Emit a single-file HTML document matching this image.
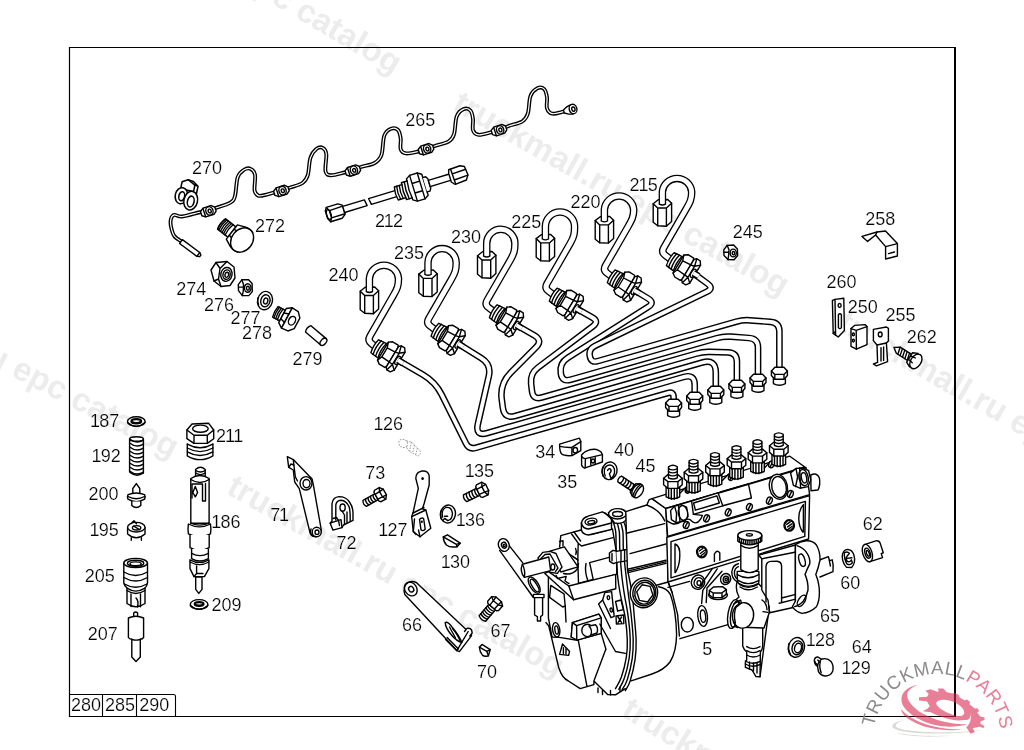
<!DOCTYPE html>
<html lang="en"><head><meta charset="utf-8"><title>Parts diagram</title>
<style>
html,body{margin:0;padding:0;background:#fff;}
body{width:1024px;height:750px;overflow:hidden;position:relative;font-family:"Liberation Sans",sans-serif;}
svg{position:absolute;left:0;top:0;display:block;will-change:transform}
.l{fill:none;stroke:#000;stroke-width:1.4;stroke-linecap:round;stroke-linejoin:round}
.w{fill:#fff;stroke:#000;stroke-width:1.4;stroke-linecap:round;stroke-linejoin:round}
.k{fill:#000;stroke:none}
.t{font-family:"Liberation Sans",sans-serif;font-size:18px;fill:#000;stroke:#fff;stroke-width:.2px}
.wm{font-family:"Liberation Sans",sans-serif;font-weight:bold;font-size:33px;fill:#ececec}
</style></head><body>
<svg width="1024" height="750" viewBox="0 0 1024 750">
<text class="wm" text-anchor="end" transform="translate(393.3 75) rotate(30.4)">truckmall.ru epc catalog</text>
<text class="wm" text-anchor="end" transform="translate(781.3 296.7) rotate(29.6)">truckmall.ru epc catalog</text>
<text class="wm" text-anchor="start" transform="translate(836 328.5) rotate(30)">truckmall.ru epc catalog</text>
<text class="wm" text-anchor="end" transform="translate(171.3 458.7) rotate(27.3)">truckmall.ru epc catalog</text>
<text class="wm" text-anchor="start" transform="translate(225 493) rotate(29.2)">truckmall.ru epc catalog</text>
<text class="wm" text-anchor="start" transform="translate(620 715) rotate(31.5)">truckmall.ru epc catalog</text>
<path d="M182.3 242 C181 241 176.2 238.6 174.3 236 C172.4 233.4 171.6 229.6 171 226.7 C170.4 223.8 170.4 220.7 171 218.7 C171.6 216.7 172.4 215.3 174.3 214.9 C176.2 214.5 177.9 217 182.3 216.5 C186.8 216 196.7 212.9 201 212 C205.3 211.1 205.9 212 208.3 211.3 C210.8 210.6 212 209.4 215.7 208 C219.4 206.6 227.1 204.7 230.3 202.7 C233.5 200.7 233.8 200.2 235 196 C236.2 191.8 236.2 181.6 237.7 177.3 C239.1 173 241.6 171.4 243.7 170 C245.8 168.6 248.4 167.9 250.3 168.7 C252.2 169.5 254.3 171 255 174.7 C255.7 178.4 254 187.2 254.6 190.7 C255.2 194.2 256.6 194.9 258.3 195.6 C260 196.3 262.6 195.5 265 195 C267.4 194.5 269.9 193.5 272.6 192.8 C275.3 192.1 278.5 191.9 281.4 191 C284.3 190.1 286.7 188.8 290.2 187.5 C293.7 186.2 299.6 185.1 302.5 183 C305.4 180.9 306.5 179.4 307.8 175.2 C309.1 171 309 162 310.5 157.6 C312 153.2 314.6 150.4 316.6 148.8 C318.7 147.2 321.2 147 322.8 147.9 C324.4 148.8 325.9 150.1 326.3 154 C326.8 157.9 324.7 167.6 325.5 171.2 C326.3 174.8 327.8 175.1 331 175.3 C334.2 175.5 341 173.3 344.6 172.5 C348.2 171.7 350.1 171.5 352.8 170.6 C355.5 169.7 357.4 168.3 361 167 C364.6 165.7 371.3 165 374.7 163 C378.1 161 379.9 159.4 381.5 154.8 C383.1 150.2 382.7 139.9 384.3 135.6 C385.9 131.3 388.7 129.7 391 128.8 C393.3 127.9 396.4 128.4 398 130 C399.6 131.6 400.2 135.2 400.7 138.4 C401.1 141.6 399.8 146.8 400.7 149.3 C401.6 151.8 403.1 153 406 153.4 C408.9 153.8 415.1 152.2 418.4 151.5 C421.7 150.8 423.3 150.2 426 149.3 C428.7 148.4 431.1 147.3 434.8 146 C438.6 144.7 445.3 143.5 448.5 141.6 C451.7 139.7 452.6 138.5 454 134.3 C455.4 130.1 455.1 120.7 456.7 116.5 C458.3 112.3 461.3 110.1 463.6 109.1 C465.9 108.1 468.8 108.8 470.4 110.5 C472 112.2 472.6 115.9 473 119.2 C473.4 122.5 472.1 127.6 473 130.2 C473.9 132.8 475.6 134.5 478.6 134.8 C481.6 135.2 487.6 133.1 491 132.3 C494.4 131.5 496.1 131.2 499 130.2 C501.9 129.1 504.8 127.5 508.7 126 C512.6 124.5 519.1 123.5 522.3 121.4 C525.5 119.4 526.4 117.9 527.8 113.7 C529.2 109.5 528.9 100.2 530.5 96 C532.1 91.8 535.1 89.5 537.4 88.3 C539.7 87.1 542.6 87.6 544.2 89.1 C545.8 90.6 546.5 94.1 547 97.3 C547.5 100.5 546.1 105.6 547 108.3 C547.9 111 549.7 113.2 552.4 113.7 C555.1 114.2 560.6 112.2 563.4 111.6 C566.2 111 568.1 110.4 569 110.2" fill="none" stroke="#000" stroke-width="3.9" stroke-linecap="butt" stroke-linejoin="round"/>
<path d="M182.3 242 C181 241 176.2 238.6 174.3 236 C172.4 233.4 171.6 229.6 171 226.7 C170.4 223.8 170.4 220.7 171 218.7 C171.6 216.7 172.4 215.3 174.3 214.9 C176.2 214.5 177.9 217 182.3 216.5 C186.8 216 196.7 212.9 201 212 C205.3 211.1 205.9 212 208.3 211.3 C210.8 210.6 212 209.4 215.7 208 C219.4 206.6 227.1 204.7 230.3 202.7 C233.5 200.7 233.8 200.2 235 196 C236.2 191.8 236.2 181.6 237.7 177.3 C239.1 173 241.6 171.4 243.7 170 C245.8 168.6 248.4 167.9 250.3 168.7 C252.2 169.5 254.3 171 255 174.7 C255.7 178.4 254 187.2 254.6 190.7 C255.2 194.2 256.6 194.9 258.3 195.6 C260 196.3 262.6 195.5 265 195 C267.4 194.5 269.9 193.5 272.6 192.8 C275.3 192.1 278.5 191.9 281.4 191 C284.3 190.1 286.7 188.8 290.2 187.5 C293.7 186.2 299.6 185.1 302.5 183 C305.4 180.9 306.5 179.4 307.8 175.2 C309.1 171 309 162 310.5 157.6 C312 153.2 314.6 150.4 316.6 148.8 C318.7 147.2 321.2 147 322.8 147.9 C324.4 148.8 325.9 150.1 326.3 154 C326.8 157.9 324.7 167.6 325.5 171.2 C326.3 174.8 327.8 175.1 331 175.3 C334.2 175.5 341 173.3 344.6 172.5 C348.2 171.7 350.1 171.5 352.8 170.6 C355.5 169.7 357.4 168.3 361 167 C364.6 165.7 371.3 165 374.7 163 C378.1 161 379.9 159.4 381.5 154.8 C383.1 150.2 382.7 139.9 384.3 135.6 C385.9 131.3 388.7 129.7 391 128.8 C393.3 127.9 396.4 128.4 398 130 C399.6 131.6 400.2 135.2 400.7 138.4 C401.1 141.6 399.8 146.8 400.7 149.3 C401.6 151.8 403.1 153 406 153.4 C408.9 153.8 415.1 152.2 418.4 151.5 C421.7 150.8 423.3 150.2 426 149.3 C428.7 148.4 431.1 147.3 434.8 146 C438.6 144.7 445.3 143.5 448.5 141.6 C451.7 139.7 452.6 138.5 454 134.3 C455.4 130.1 455.1 120.7 456.7 116.5 C458.3 112.3 461.3 110.1 463.6 109.1 C465.9 108.1 468.8 108.8 470.4 110.5 C472 112.2 472.6 115.9 473 119.2 C473.4 122.5 472.1 127.6 473 130.2 C473.9 132.8 475.6 134.5 478.6 134.8 C481.6 135.2 487.6 133.1 491 132.3 C494.4 131.5 496.1 131.2 499 130.2 C501.9 129.1 504.8 127.5 508.7 126 C512.6 124.5 519.1 123.5 522.3 121.4 C525.5 119.4 526.4 117.9 527.8 113.7 C529.2 109.5 528.9 100.2 530.5 96 C532.1 91.8 535.1 89.5 537.4 88.3 C539.7 87.1 542.6 87.6 544.2 89.1 C545.8 90.6 546.5 94.1 547 97.3 C547.5 100.5 546.1 105.6 547 108.3 C547.9 111 549.7 113.2 552.4 113.7 C555.1 114.2 560.6 112.2 563.4 111.6 C566.2 111 568.1 110.4 569 110.2" fill="none" stroke="#fff" stroke-width="1.2" stroke-linecap="butt" stroke-linejoin="round"/>
<g transform="translate(181 241.6) rotate(36.5)">
<path class="w" d="M0 -2.4 H21.5 L24 -1 V1 L21.5 2.4 H0Z"/>
<path class="l" d="M21.5 -2.4V2.4"/>
</g>
<g transform="translate(208.3 211.3) rotate(-18)">
<path class="w" d="M-7.5 -2.2 L-4 -4.6 L4.5 -4.6 L7.5 -2 L7.5 2.2 L4.5 4.6 L-4 4.6 L-7.5 2.2Z"/>
<ellipse class="w" cx="1.2" cy="0" rx="3.6" ry="4.3"/>
<ellipse class="l" cx="1.4" cy="0.2" rx="1.5" ry="1.9"/>
<path class="l" d="M-4.2 -4.4V4.4"/>
</g>
<g transform="translate(281.4 191) rotate(-18)">
<path class="w" d="M-7.5 -2.2 L-4 -4.6 L4.5 -4.6 L7.5 -2 L7.5 2.2 L4.5 4.6 L-4 4.6 L-7.5 2.2Z"/>
<ellipse class="w" cx="1.2" cy="0" rx="3.6" ry="4.3"/>
<ellipse class="l" cx="1.4" cy="0.2" rx="1.5" ry="1.9"/>
<path class="l" d="M-4.2 -4.4V4.4"/>
</g>
<g transform="translate(352.8 170.6) rotate(-18)">
<path class="w" d="M-7.5 -2.2 L-4 -4.6 L4.5 -4.6 L7.5 -2 L7.5 2.2 L4.5 4.6 L-4 4.6 L-7.5 2.2Z"/>
<ellipse class="w" cx="1.2" cy="0" rx="3.6" ry="4.3"/>
<ellipse class="l" cx="1.4" cy="0.2" rx="1.5" ry="1.9"/>
<path class="l" d="M-4.2 -4.4V4.4"/>
</g>
<g transform="translate(426 149.3) rotate(-18)">
<path class="w" d="M-7.5 -2.2 L-4 -4.6 L4.5 -4.6 L7.5 -2 L7.5 2.2 L4.5 4.6 L-4 4.6 L-7.5 2.2Z"/>
<ellipse class="w" cx="1.2" cy="0" rx="3.6" ry="4.3"/>
<ellipse class="l" cx="1.4" cy="0.2" rx="1.5" ry="1.9"/>
<path class="l" d="M-4.2 -4.4V4.4"/>
</g>
<g transform="translate(499 130.2) rotate(-18)">
<path class="w" d="M-7.5 -2.2 L-4 -4.6 L4.5 -4.6 L7.5 -2 L7.5 2.2 L4.5 4.6 L-4 4.6 L-7.5 2.2Z"/>
<ellipse class="w" cx="1.2" cy="0" rx="3.6" ry="4.3"/>
<ellipse class="l" cx="1.4" cy="0.2" rx="1.5" ry="1.9"/>
<path class="l" d="M-4.2 -4.4V4.4"/>
</g>
<g transform="translate(571.6 109.4) rotate(-15)">
<path class="w" d="M-8 -1.6 L-4 -3.8 L0 -4.8 L0 4.8 L-4 3.8 L-8 1.6Z"/>
<ellipse class="w" cx="1.5" cy="0" rx="3.8" ry="4.8"/>
<ellipse class="l" cx="1.8" cy="0.2" rx="1.6" ry="2.2"/>
</g>
<g transform="translate(187 195.8) rotate(12) scale(1.1)">
<path class="w" d="M-7 -11.5 L-2 -14.5 L5 -11 L5 -5 L-7 -5Z"/>
<path class="l" d="M-2 -14.5 L3 -14 L8 -10.5 L5 -11 M8 -10.5 V-4"/>
<ellipse class="w" cx="-5" cy="1" rx="5.6" ry="7.4"/>
<ellipse class="l" cx="-4.6" cy="1.4" rx="2.6" ry="4.2"/>
<ellipse class="w" cx="4.2" cy="3.6" rx="6.2" ry="8.6"/>
<ellipse class="l" cx="4.4" cy="4.4" rx="3" ry="5"/>
</g>
<g transform="translate(235 234.5) rotate(38)">
<path class="w" d="M-17 -6.5 H-4 V6.5 H-17 Q-19 0 -17 -6.5Z"/>
<path class="l" d="M-15.5 -6.5 Q-17.1 0 -15.5 6.5"/>
<path class="l" d="M-13.5 -6.5 Q-15.1 0 -13.5 6.5"/>
<path class="l" d="M-11.5 -6.5 Q-13.1 0 -11.5 6.5"/>
<path class="l" d="M-9.5 -6.5 Q-11.1 0 -9.5 6.5"/>
<path class="l" d="M-7.5 -6.5 Q-9.1 0 -7.5 6.5"/>
<path class="l" d="M-17 -6.5 Q-19 0 -17 6.5" stroke-width="2"/>
<path class="w" d="M-4 -9 L3 -12 L3 12 L-4 9Z"/>
<path class="l" d="M-4 -3.5 L3 -5 M-4 4 L3 5.5"/>
<ellipse class="w" cx="9" cy="0" rx="10.5" ry="13"/>
<path class="l" d="M3 -12 Q9 -14.5 13 -12.3 M3 12 Q8 14.5 13 12.3"/>
</g>
<g transform="translate(336 211.8) rotate(-16.9)">
<path class="w" d="M-8 -7 L4 -7 L8 -4.5 L8 5 L4 8 L-8 8 L-10 4 L-10 -4Z"/>
<path class="l" d="M-8 -7 L-6 -3 L-6 4.5 L-8 8 M-6 -3 L8 -3.5 M-6 4.5 L8 4.5"/>
<ellipse class="l" cx="-7.6" cy="0.5" rx="2.2" ry="5"/>
<path class="w" d="M8 -3.2 H30.6 L31.6 3.2 H8Z"/>
<path class="w" d="M35 -3.2 H66 V3.2 H36Z"/>
<path class="w" d="M63 -6.8 H71 V-8.8 H77 V-11 L81 -13.5 H89 L93 -11 V11 L89 13.5 H81 L77 11 V8.8 H71 V6.8 H63 Q61.4 0 63 -6.8Z"/>
<path class="l" d="M65.5 -6.8 Q64 0 65.5 6.8 M68.2 -6.8 Q66.8 0 68.2 6.8 M71 -6.8 Q69.6 0 71 6.8 M74 -8.8 Q72.4 0 74 8.8 M77 -8.8 Q75.4 0 77 8.8" stroke-width="1.7"/>
<path class="l" d="M81 -13.5 V13.5 M89 -13.5V13.5 M81 -5 H89 M81 5 H89"/>
<path class="w" d="M93 -7.5 H96 L97.5 -5 V5 L96 7.5 H93"/>
<path class="w" d="M97.5 -3.2 H122 V3.2 H97.5Z"/>
<path class="w" d="M120 -7.5 L132 -8 L136 -6 L137 3 L134 7.5 L122 8.5 L119 5 L119 -4Z"/>
<path class="l" d="M122 -7.6 L122.6 8.4 M122.3 -2.5 L136.5 -3 M122.5 4 L136.8 3.2"/>
</g>
<g transform="translate(223 274)">
<path class="w" d="M-12 -4 L-7 -11.5 L4 -12.5 L11 -7 L12 4 L7 11.5 L-2 12.5 L-9 7Z"/>
<path class="l" d="M-7 -11.5 L-3 -5.5 L-4.5 5 L-9 7 M-3 -5.5 L4 -12.5 M-4.5 5 L-2 12.5"/>
<ellipse class="w" cx="3.4" cy="0.4" rx="5.6" ry="7" transform="rotate(12 3.4 0.4)"/>
<ellipse class="l" cx="3.6" cy="0.6" rx="3.6" ry="4.8" transform="rotate(12 3.6 0.6)"/>
<ellipse class="l" cx="3.8" cy="0.8" rx="1.8" ry="2.6" transform="rotate(12 3.8 0.8)"/>
</g>
<g transform="translate(245.3 287.6)">
<path class="w" d="M-7 -3 L-3.5 -7.8 L3 -8 L6.8 -4 L7 4 L3.5 8 L-3 8 L-6.8 3Z"/>
<path class="l" d="M-3.5 -7.8 L-1.8 -3 L-2 3.2 L-3 8 M-6.5 -0.5 H-2"/>
<ellipse class="l" cx="2.4" cy="0.4" rx="3.3" ry="4.2"/>
<ellipse class="l" cx="2.6" cy="0.6" rx="1.4" ry="2"/>
</g>
<ellipse class="w" cx="265" cy="300.6" rx="7.4" ry="9.3" transform="rotate(14 265 300.6)"/>
<ellipse class="l" cx="265.4" cy="300.8" rx="4.6" ry="6.1" transform="rotate(14 265.4 300.8)"/>
<ellipse class="l" cx="265.7" cy="301" rx="2.1" ry="3" transform="rotate(14 265.7 301)"/>
<path class="l" d="M258.2 297.5 Q256.8 301 258.6 305"/>
<g transform="translate(286 317.5) rotate(28)">
<path class="w" d="M-12 -6 H-4 V6 H-12 Q-13.5 0 -12 -6Z"/>
<path class="l" d="M-10.5 -6 Q-11.9 0 -10.5 6"/>
<path class="l" d="M-8.5 -6 Q-9.9 0 -8.5 6"/>
<path class="l" d="M-6.5 -6 Q-7.9 0 -6.5 6"/>
<path class="w" d="M-4 -8 L1 -11.5 L1 11.5 L-4 8Z"/>
<path class="w" d="M1 -11.5 L8 -11 L12.5 -6 L12.5 6 L8 11 L1 11.5Z"/>
<path class="l" d="M-4 -3 L1 -4.5 M-4 3.5 L1 5"/>
<ellipse class="l" cx="6.8" cy="0" rx="3.3" ry="4.6"/>
</g>
<g transform="translate(316.6 336) rotate(40.5)">
<path class="w" d="M-11 -4.2 H9 V4.2 H-11 Q-13.5 0 -11 -4.2Z"/>
<ellipse class="w" cx="9" cy="0" rx="2.6" ry="4.2"/>
</g>
<path d="M396.2 359.1 L423.2 374.9 Q435.3 382 441.6 394.5 L466 443.4 Q469.1 449.7 475.8 447.8 L668 393 Q673.6 391.4 673.6 397.2 L673.6 403" fill="none" stroke="#000" stroke-width="6.7" stroke-linecap="butt" stroke-linejoin="round"/>
<path d="M396.2 359.1 L423.2 374.9 Q435.3 382 441.6 394.5 L466 443.4 Q469.1 449.7 475.8 447.8 L668 393 Q673.6 391.4 673.6 397.2 L673.6 403" fill="none" stroke="#fff" stroke-width="3.8" stroke-linecap="butt" stroke-linejoin="round"/>
<path d="M456.4 342.6 L481.3 358.2 Q491.5 364.5 488.8 376.2 L477.9 423.9 Q475 436.6 487.5 433 L684.1 376.9 Q694.7 373.9 694.7 385 L694.7 396" fill="none" stroke="#000" stroke-width="6.7" stroke-linecap="butt" stroke-linejoin="round"/>
<path d="M456.4 342.6 L481.3 358.2 Q491.5 364.5 488.8 376.2 L477.9 423.9 Q475 436.6 487.5 433 L684.1 376.9 Q694.7 373.9 694.7 385 L694.7 396" fill="none" stroke="#fff" stroke-width="3.8" stroke-linecap="butt" stroke-linejoin="round"/>
<path d="M514.7 324.1 L534.3 335.3 Q543 340.3 535.9 347.4 L510.8 372.7 Q499.5 384 501.8 399.8 L502.9 408.1 Q504.5 419 515.1 416 L702.3 362.5 Q715.8 358.7 715.8 372.7 L715.8 390" fill="none" stroke="#000" stroke-width="6.7" stroke-linecap="butt" stroke-linejoin="round"/>
<path d="M514.7 324.1 L534.3 335.3 Q543 340.3 535.9 347.4 L510.8 372.7 Q499.5 384 501.8 399.8 L502.9 408.1 Q504.5 419 515.1 416 L702.3 362.5 Q715.8 358.7 715.8 372.7 L715.8 390" fill="none" stroke="#fff" stroke-width="3.8" stroke-linecap="butt" stroke-linejoin="round"/>
<path d="M574.6 307.5 L592.3 317.5 Q599.3 321.4 592.9 326.2 L538 367.6 Q530 373.6 531.1 383.5 L532 391.1 Q533 400 541.7 397.5 L696.3 353.6 Q703 351.6 710 351.9 L727.9 352.4 Q736.9 352.6 736.9 361.6 L736.9 384" fill="none" stroke="#000" stroke-width="6.7" stroke-linecap="butt" stroke-linejoin="round"/>
<path d="M574.6 307.5 L592.3 317.5 Q599.3 321.4 592.9 326.2 L538 367.6 Q530 373.6 531.1 383.5 L532 391.1 Q533 400 541.7 397.5 L696.3 353.6 Q703 351.6 710 351.9 L727.9 352.4 Q736.9 352.6 736.9 361.6 L736.9 384" fill="none" stroke="#fff" stroke-width="3.8" stroke-linecap="butt" stroke-linejoin="round"/>
<path d="M632.6 289.2 L648.1 298.5 Q655 302.6 648.2 306.9 L567.7 357.8 Q559.5 363 560.8 372.6 L560.8 373.3 Q562 382.2 570.7 379.7 L717 338.1 Q723.7 336.1 730.7 336.7 L749 338 Q758 338.6 758 347.6 L758 378" fill="none" stroke="#000" stroke-width="6.7" stroke-linecap="butt" stroke-linejoin="round"/>
<path d="M632.6 289.2 L648.1 298.5 Q655 302.6 648.2 306.9 L567.7 357.8 Q559.5 363 560.8 372.6 L560.8 373.3 Q562 382.2 570.7 379.7 L717 338.1 Q723.7 336.1 730.7 336.7 L749 338 Q758 338.6 758 347.6 L758 378" fill="none" stroke="#fff" stroke-width="3.8" stroke-linecap="butt" stroke-linejoin="round"/>
<path d="M691.7 272 L707.5 283.6 Q714 288.3 706.8 291.8 L594.9 345.9 Q588.5 349 589.8 356 L589.8 356.1 Q591 363 597.7 361.1 L736.3 321.7 Q743 319.7 750 320.3 L770.4 321.9 Q779.4 322.5 779.4 331.5 L779.4 371" fill="none" stroke="#000" stroke-width="6.7" stroke-linecap="butt" stroke-linejoin="round"/>
<path d="M691.7 272 L707.5 283.6 Q714 288.3 706.8 291.8 L594.9 345.9 Q588.5 349 589.8 356 L589.8 356.1 Q591 363 597.7 361.1 L736.3 321.7 Q743 319.7 750 320.3 L770.4 321.9 Q779.4 322.5 779.4 331.5 L779.4 371" fill="none" stroke="#fff" stroke-width="3.8" stroke-linecap="butt" stroke-linejoin="round"/>
<g transform="translate(369.4 300.6)">
<path class="w" d="M-9.2 -9.4 L-4.2 -13.3 L5.3 -13.6 L9.2 -9.8 L9.2 8.4 L4 13.1 L-4.7 12.7 L-9.2 9.2Z"/>
<path class="l" d="M-9.2 -9.4 L-4.7 -5.1 L4 -5.1 L9.2 -9.8 M-4.7 -5.1 V12.7 M4 -5.1 V13.1"/>
</g>
<path d="M369.4 291.6 L369.4 278.6 A14.6 14.6 0 0 1 398.5 278.6 C398.5 285.6 397.3 288.7 393.3 295.6 L370 336.1 Q367.5 340.4 371.4 343.5 L375.6 346.8" fill="none" stroke="#000" stroke-width="7.5" stroke-linecap="butt" stroke-linejoin="round"/>
<path d="M369.4 291.6 L369.4 278.6 A14.6 14.6 0 0 1 398.5 278.6 C398.5 285.6 397.3 288.7 393.3 295.6 L370 336.1 Q367.5 340.4 371.4 343.5 L375.6 346.8" fill="none" stroke="#fff" stroke-width="4.9" stroke-linecap="butt" stroke-linejoin="round"/>
<path class="l" d="M366.3 291.6 Q369.4 293.4 372.5 291.6"/>
<g transform="translate(388.5 354.5) rotate(31)">
<path class="w" d="M-16 -7.5 L-6 -8.5 L-6 8.5 L-16 7.5 Q-18 0 -16 -7.5Z"/>
<path class="l" d="M-13.2 -8 Q-15.2 0 -13.2 8" stroke-width="1.7"/>
<path class="l" d="M-10.2 -8 Q-12.2 0 -10.2 8" stroke-width="1.7"/>
<path class="l" d="M-7.4 -8 Q-9.4 0 -7.4 8" stroke-width="1.7"/>
<path class="w" d="M-6.5 -10.5 L-3 -13 L3.5 -13 L4.5 -10.5 L4.5 10.5 L3.5 13 L-3 13 L-6.5 10.5Z"/>
<path class="l" d="M-6.5 -10.5 L-4.5 -5 L-4.5 5.5 L-6.5 10.5 M-4.5 -5 L3.5 -5.5 M-4.5 5.5 L3.5 6"/>
<path class="w" d="M4.5 -12 L6.5 -14 L10.5 -14 L13 -10.5 L13 10.5 L10.5 14 L6.5 14 L4.5 12Z"/>
<path class="l" d="M6.5 -14 L8.5 -6.5 L8.5 6.5 L6.5 14 M8.5 -6.5 L13 -10.5 M8.5 6.5 L13 10.5 M4.5 -5.5 L8.5 -6.5 M4.5 6 L8.5 6.5"/>
<ellipse class="w" cx="11" cy="0.3" rx="2.1" ry="4.6"/>
</g>
<path d="M397.9 360.2 L403.1 363.3" fill="none" stroke="#000" stroke-width="6.7" stroke-linecap="butt" stroke-linejoin="round"/>
<path d="M397.9 360.2 L403.1 363.3" fill="none" stroke="#fff" stroke-width="3.8" stroke-linecap="butt" stroke-linejoin="round"/>
<g transform="translate(673.6 408)">
<path class="w" d="M-6 1 V7.6 Q0 11 6 7.6 V1Z"/>
<path class="w" d="M-8 -5 L-4.5 -8.8 L4.5 -8.8 L8 -5 L8 -0.5 L4.6 3.2 L-4.6 3.2 L-8 -0.5Z"/>
<path class="l" d="M-8 -5 L-4.6 -1.6 L4.6 -1.6 L8 -5 M-4.6 -1.6 V3.2 M4.6 -1.6 V3.2"/>
</g>
<g transform="translate(428 283.5)">
<path class="w" d="M-9.2 -9.4 L-4.2 -13.3 L5.3 -13.6 L9.2 -9.8 L9.2 8.4 L4 13.1 L-4.7 12.7 L-9.2 9.2Z"/>
<path class="l" d="M-9.2 -9.4 L-4.7 -5.1 L4 -5.1 L9.2 -9.8 M-4.7 -5.1 V12.7 M4 -5.1 V13.1"/>
</g>
<path d="M428 274.5 L428 262.7 A14.1 14.1 0 0 1 456.2 262.7 C456.2 269.7 455.2 272.8 451.2 279.7 L428.7 318.7 Q426.2 323 430.2 326 L435.8 330.3" fill="none" stroke="#000" stroke-width="7.5" stroke-linecap="butt" stroke-linejoin="round"/>
<path d="M428 274.5 L428 262.7 A14.1 14.1 0 0 1 456.2 262.7 C456.2 269.7 455.2 272.8 451.2 279.7 L428.7 318.7 Q426.2 323 430.2 326 L435.8 330.3" fill="none" stroke="#fff" stroke-width="4.9" stroke-linecap="butt" stroke-linejoin="round"/>
<path class="l" d="M424.9 274.5 Q428 276.3 431.1 274.5"/>
<g transform="translate(448.7 338) rotate(31)">
<path class="w" d="M-16 -7.5 L-6 -8.5 L-6 8.5 L-16 7.5 Q-18 0 -16 -7.5Z"/>
<path class="l" d="M-13.2 -8 Q-15.2 0 -13.2 8" stroke-width="1.7"/>
<path class="l" d="M-10.2 -8 Q-12.2 0 -10.2 8" stroke-width="1.7"/>
<path class="l" d="M-7.4 -8 Q-9.4 0 -7.4 8" stroke-width="1.7"/>
<path class="w" d="M-6.5 -10.5 L-3 -13 L3.5 -13 L4.5 -10.5 L4.5 10.5 L3.5 13 L-3 13 L-6.5 10.5Z"/>
<path class="l" d="M-6.5 -10.5 L-4.5 -5 L-4.5 5.5 L-6.5 10.5 M-4.5 -5 L3.5 -5.5 M-4.5 5.5 L3.5 6"/>
<path class="w" d="M4.5 -12 L6.5 -14 L10.5 -14 L13 -10.5 L13 10.5 L10.5 14 L6.5 14 L4.5 12Z"/>
<path class="l" d="M6.5 -14 L8.5 -6.5 L8.5 6.5 L6.5 14 M8.5 -6.5 L13 -10.5 M8.5 6.5 L13 10.5 M4.5 -5.5 L8.5 -6.5 M4.5 6 L8.5 6.5"/>
<ellipse class="w" cx="11" cy="0.3" rx="2.1" ry="4.6"/>
</g>
<path d="M458.1 343.7 L463.3 346.8" fill="none" stroke="#000" stroke-width="6.7" stroke-linecap="butt" stroke-linejoin="round"/>
<path d="M458.1 343.7 L463.3 346.8" fill="none" stroke="#fff" stroke-width="3.8" stroke-linecap="butt" stroke-linejoin="round"/>
<g transform="translate(694.7 401)">
<path class="w" d="M-6 1 V7.6 Q0 11 6 7.6 V1Z"/>
<path class="w" d="M-8 -5 L-4.5 -8.8 L4.5 -8.8 L8 -5 L8 -0.5 L4.6 3.2 L-4.6 3.2 L-8 -0.5Z"/>
<path class="l" d="M-8 -5 L-4.6 -1.6 L4.6 -1.6 L8 -5 M-4.6 -1.6 V3.2 M4.6 -1.6 V3.2"/>
</g>
<g transform="translate(486.7 265.1)">
<path class="w" d="M-9.2 -9.4 L-4.2 -13.3 L5.3 -13.6 L9.2 -9.8 L9.2 8.4 L4 13.1 L-4.7 12.7 L-9.2 9.2Z"/>
<path class="l" d="M-9.2 -9.4 L-4.7 -5.1 L4 -5.1 L9.2 -9.8 M-4.7 -5.1 V12.7 M4 -5.1 V13.1"/>
</g>
<path d="M486.7 256.1 L486.7 243.4 A14.1 14.1 0 0 1 514.9 243.4 C514.9 250.4 514.1 253.5 510.1 260.4 L487.1 300.3 Q484.6 304.6 488.6 307.6 L494.1 311.8" fill="none" stroke="#000" stroke-width="7.5" stroke-linecap="butt" stroke-linejoin="round"/>
<path d="M486.7 256.1 L486.7 243.4 A14.1 14.1 0 0 1 514.9 243.4 C514.9 250.4 514.1 253.5 510.1 260.4 L487.1 300.3 Q484.6 304.6 488.6 307.6 L494.1 311.8" fill="none" stroke="#fff" stroke-width="4.9" stroke-linecap="butt" stroke-linejoin="round"/>
<path class="l" d="M483.6 256.1 Q486.7 257.9 489.8 256.1"/>
<g transform="translate(507 319.5) rotate(31)">
<path class="w" d="M-16 -7.5 L-6 -8.5 L-6 8.5 L-16 7.5 Q-18 0 -16 -7.5Z"/>
<path class="l" d="M-13.2 -8 Q-15.2 0 -13.2 8" stroke-width="1.7"/>
<path class="l" d="M-10.2 -8 Q-12.2 0 -10.2 8" stroke-width="1.7"/>
<path class="l" d="M-7.4 -8 Q-9.4 0 -7.4 8" stroke-width="1.7"/>
<path class="w" d="M-6.5 -10.5 L-3 -13 L3.5 -13 L4.5 -10.5 L4.5 10.5 L3.5 13 L-3 13 L-6.5 10.5Z"/>
<path class="l" d="M-6.5 -10.5 L-4.5 -5 L-4.5 5.5 L-6.5 10.5 M-4.5 -5 L3.5 -5.5 M-4.5 5.5 L3.5 6"/>
<path class="w" d="M4.5 -12 L6.5 -14 L10.5 -14 L13 -10.5 L13 10.5 L10.5 14 L6.5 14 L4.5 12Z"/>
<path class="l" d="M6.5 -14 L8.5 -6.5 L8.5 6.5 L6.5 14 M8.5 -6.5 L13 -10.5 M8.5 6.5 L13 10.5 M4.5 -5.5 L8.5 -6.5 M4.5 6 L8.5 6.5"/>
<ellipse class="w" cx="11" cy="0.3" rx="2.1" ry="4.6"/>
</g>
<path d="M516.4 325.2 L521.6 328.3" fill="none" stroke="#000" stroke-width="6.7" stroke-linecap="butt" stroke-linejoin="round"/>
<path d="M516.4 325.2 L521.6 328.3" fill="none" stroke="#fff" stroke-width="3.8" stroke-linecap="butt" stroke-linejoin="round"/>
<g transform="translate(715.8 395)">
<path class="w" d="M-6 1 V7.6 Q0 11 6 7.6 V1Z"/>
<path class="w" d="M-8 -5 L-4.5 -8.8 L4.5 -8.8 L8 -5 L8 -0.5 L4.6 3.2 L-4.6 3.2 L-8 -0.5Z"/>
<path class="l" d="M-8 -5 L-4.6 -1.6 L4.6 -1.6 L8 -5 M-4.6 -1.6 V3.2 M4.6 -1.6 V3.2"/>
</g>
<g transform="translate(545.4 248)">
<path class="w" d="M-9.2 -9.4 L-4.2 -13.3 L5.3 -13.6 L9.2 -9.8 L9.2 8.4 L4 13.1 L-4.7 12.7 L-9.2 9.2Z"/>
<path class="l" d="M-9.2 -9.4 L-4.7 -5.1 L4 -5.1 L9.2 -9.8 M-4.7 -5.1 V12.7 M4 -5.1 V13.1"/>
</g>
<path d="M545.4 239 L545.4 226.6 A14.6 14.6 0 0 1 574.6 226.6 C574.6 233.6 574.1 236.7 570.1 243.6 L547 283.7 Q544.5 288 548.5 291 L554 295.2" fill="none" stroke="#000" stroke-width="7.5" stroke-linecap="butt" stroke-linejoin="round"/>
<path d="M545.4 239 L545.4 226.6 A14.6 14.6 0 0 1 574.6 226.6 C574.6 233.6 574.1 236.7 570.1 243.6 L547 283.7 Q544.5 288 548.5 291 L554 295.2" fill="none" stroke="#fff" stroke-width="4.9" stroke-linecap="butt" stroke-linejoin="round"/>
<path class="l" d="M542.3 239 Q545.4 240.8 548.5 239"/>
<g transform="translate(566.9 302.9) rotate(31)">
<path class="w" d="M-16 -7.5 L-6 -8.5 L-6 8.5 L-16 7.5 Q-18 0 -16 -7.5Z"/>
<path class="l" d="M-13.2 -8 Q-15.2 0 -13.2 8" stroke-width="1.7"/>
<path class="l" d="M-10.2 -8 Q-12.2 0 -10.2 8" stroke-width="1.7"/>
<path class="l" d="M-7.4 -8 Q-9.4 0 -7.4 8" stroke-width="1.7"/>
<path class="w" d="M-6.5 -10.5 L-3 -13 L3.5 -13 L4.5 -10.5 L4.5 10.5 L3.5 13 L-3 13 L-6.5 10.5Z"/>
<path class="l" d="M-6.5 -10.5 L-4.5 -5 L-4.5 5.5 L-6.5 10.5 M-4.5 -5 L3.5 -5.5 M-4.5 5.5 L3.5 6"/>
<path class="w" d="M4.5 -12 L6.5 -14 L10.5 -14 L13 -10.5 L13 10.5 L10.5 14 L6.5 14 L4.5 12Z"/>
<path class="l" d="M6.5 -14 L8.5 -6.5 L8.5 6.5 L6.5 14 M8.5 -6.5 L13 -10.5 M8.5 6.5 L13 10.5 M4.5 -5.5 L8.5 -6.5 M4.5 6 L8.5 6.5"/>
<ellipse class="w" cx="11" cy="0.3" rx="2.1" ry="4.6"/>
</g>
<path d="M576.3 308.6 L581.5 311.7" fill="none" stroke="#000" stroke-width="6.7" stroke-linecap="butt" stroke-linejoin="round"/>
<path d="M576.3 308.6 L581.5 311.7" fill="none" stroke="#fff" stroke-width="3.8" stroke-linecap="butt" stroke-linejoin="round"/>
<g transform="translate(736.9 389)">
<path class="w" d="M-6 1 V7.6 Q0 11 6 7.6 V1Z"/>
<path class="w" d="M-8 -5 L-4.5 -8.8 L4.5 -8.8 L8 -5 L8 -0.5 L4.6 3.2 L-4.6 3.2 L-8 -0.5Z"/>
<path class="l" d="M-8 -5 L-4.6 -1.6 L4.6 -1.6 L8 -5 M-4.6 -1.6 V3.2 M4.6 -1.6 V3.2"/>
</g>
<g transform="translate(604.4 230)">
<path class="w" d="M-9.2 -9.4 L-4.2 -13.3 L5.3 -13.6 L9.2 -9.8 L9.2 8.4 L4 13.1 L-4.7 12.7 L-9.2 9.2Z"/>
<path class="l" d="M-9.2 -9.4 L-4.7 -5.1 L4 -5.1 L9.2 -9.8 M-4.7 -5.1 V12.7 M4 -5.1 V13.1"/>
</g>
<path d="M604.4 221 L604.4 209.5 A14.7 14.7 0 0 1 633.7 209.5 C633.7 216.5 632.1 219.5 628.1 226.5 L605.5 265.7 Q603 270 607 273 L612 276.9" fill="none" stroke="#000" stroke-width="7.5" stroke-linecap="butt" stroke-linejoin="round"/>
<path d="M604.4 221 L604.4 209.5 A14.7 14.7 0 0 1 633.7 209.5 C633.7 216.5 632.1 219.5 628.1 226.5 L605.5 265.7 Q603 270 607 273 L612 276.9" fill="none" stroke="#fff" stroke-width="4.9" stroke-linecap="butt" stroke-linejoin="round"/>
<path class="l" d="M601.3 221 Q604.4 222.8 607.5 221"/>
<g transform="translate(624.9 284.6) rotate(31)">
<path class="w" d="M-16 -7.5 L-6 -8.5 L-6 8.5 L-16 7.5 Q-18 0 -16 -7.5Z"/>
<path class="l" d="M-13.2 -8 Q-15.2 0 -13.2 8" stroke-width="1.7"/>
<path class="l" d="M-10.2 -8 Q-12.2 0 -10.2 8" stroke-width="1.7"/>
<path class="l" d="M-7.4 -8 Q-9.4 0 -7.4 8" stroke-width="1.7"/>
<path class="w" d="M-6.5 -10.5 L-3 -13 L3.5 -13 L4.5 -10.5 L4.5 10.5 L3.5 13 L-3 13 L-6.5 10.5Z"/>
<path class="l" d="M-6.5 -10.5 L-4.5 -5 L-4.5 5.5 L-6.5 10.5 M-4.5 -5 L3.5 -5.5 M-4.5 5.5 L3.5 6"/>
<path class="w" d="M4.5 -12 L6.5 -14 L10.5 -14 L13 -10.5 L13 10.5 L10.5 14 L6.5 14 L4.5 12Z"/>
<path class="l" d="M6.5 -14 L8.5 -6.5 L8.5 6.5 L6.5 14 M8.5 -6.5 L13 -10.5 M8.5 6.5 L13 10.5 M4.5 -5.5 L8.5 -6.5 M4.5 6 L8.5 6.5"/>
<ellipse class="w" cx="11" cy="0.3" rx="2.1" ry="4.6"/>
</g>
<path d="M634.3 290.3 L639.5 293.4" fill="none" stroke="#000" stroke-width="6.7" stroke-linecap="butt" stroke-linejoin="round"/>
<path d="M634.3 290.3 L639.5 293.4" fill="none" stroke="#fff" stroke-width="3.8" stroke-linecap="butt" stroke-linejoin="round"/>
<g transform="translate(758 383)">
<path class="w" d="M-6 1 V7.6 Q0 11 6 7.6 V1Z"/>
<path class="w" d="M-8 -5 L-4.5 -8.8 L4.5 -8.8 L8 -5 L8 -0.5 L4.6 3.2 L-4.6 3.2 L-8 -0.5Z"/>
<path class="l" d="M-8 -5 L-4.6 -1.6 L4.6 -1.6 L8 -5 M-4.6 -1.6 V3.2 M4.6 -1.6 V3.2"/>
</g>
<g transform="translate(662.4 213.1)">
<path class="w" d="M-9.2 -9.4 L-4.2 -13.3 L5.3 -13.6 L9.2 -9.8 L9.2 8.4 L4 13.1 L-4.7 12.7 L-9.2 9.2Z"/>
<path class="l" d="M-9.2 -9.4 L-4.7 -5.1 L4 -5.1 L9.2 -9.8 M-4.7 -5.1 V12.7 M4 -5.1 V13.1"/>
</g>
<path d="M662.4 204.1 L662.4 191.9 A14.7 14.7 0 0 1 691.7 191.9 C691.7 198.9 690.2 201.9 686.2 208.9 L663.7 247.9 Q661.2 252.2 665.2 255.2 L671.1 259.7" fill="none" stroke="#000" stroke-width="7.5" stroke-linecap="butt" stroke-linejoin="round"/>
<path d="M662.4 204.1 L662.4 191.9 A14.7 14.7 0 0 1 691.7 191.9 C691.7 198.9 690.2 201.9 686.2 208.9 L663.7 247.9 Q661.2 252.2 665.2 255.2 L671.1 259.7" fill="none" stroke="#fff" stroke-width="4.9" stroke-linecap="butt" stroke-linejoin="round"/>
<path class="l" d="M659.3 204.1 Q662.4 205.9 665.5 204.1"/>
<g transform="translate(684 267.4) rotate(31)">
<path class="w" d="M-16 -7.5 L-6 -8.5 L-6 8.5 L-16 7.5 Q-18 0 -16 -7.5Z"/>
<path class="l" d="M-13.2 -8 Q-15.2 0 -13.2 8" stroke-width="1.7"/>
<path class="l" d="M-10.2 -8 Q-12.2 0 -10.2 8" stroke-width="1.7"/>
<path class="l" d="M-7.4 -8 Q-9.4 0 -7.4 8" stroke-width="1.7"/>
<path class="w" d="M-6.5 -10.5 L-3 -13 L3.5 -13 L4.5 -10.5 L4.5 10.5 L3.5 13 L-3 13 L-6.5 10.5Z"/>
<path class="l" d="M-6.5 -10.5 L-4.5 -5 L-4.5 5.5 L-6.5 10.5 M-4.5 -5 L3.5 -5.5 M-4.5 5.5 L3.5 6"/>
<path class="w" d="M4.5 -12 L6.5 -14 L10.5 -14 L13 -10.5 L13 10.5 L10.5 14 L6.5 14 L4.5 12Z"/>
<path class="l" d="M6.5 -14 L8.5 -6.5 L8.5 6.5 L6.5 14 M8.5 -6.5 L13 -10.5 M8.5 6.5 L13 10.5 M4.5 -5.5 L8.5 -6.5 M4.5 6 L8.5 6.5"/>
<ellipse class="w" cx="11" cy="0.3" rx="2.1" ry="4.6"/>
</g>
<path d="M693.4 273.1 L698.6 276.2" fill="none" stroke="#000" stroke-width="6.7" stroke-linecap="butt" stroke-linejoin="round"/>
<path d="M693.4 273.1 L698.6 276.2" fill="none" stroke="#fff" stroke-width="3.8" stroke-linecap="butt" stroke-linejoin="round"/>
<g transform="translate(779.4 376)">
<path class="w" d="M-6 1 V7.6 Q0 11 6 7.6 V1Z"/>
<path class="w" d="M-8 -5 L-4.5 -8.8 L4.5 -8.8 L8 -5 L8 -0.5 L4.6 3.2 L-4.6 3.2 L-8 -0.5Z"/>
<path class="l" d="M-8 -5 L-4.6 -1.6 L4.6 -1.6 L8 -5 M-4.6 -1.6 V3.2 M4.6 -1.6 V3.2"/>
</g>
<ellipse class="w" cx="136.3" cy="421.6" rx="8.8" ry="4.8"/>
<ellipse cx="136.3" cy="421.2" rx="4.8" ry="2.1" fill="none" stroke="#000" stroke-width="2.2"/>
<path class="l" d="M131.5 421.3 Q136.3 424.4 141.1 421.3" stroke-width="2"/>
<path class="l" d="M127.5 422.5 Q136.3 430 145.1 422.5"/>
<ellipse class="w" cx="136.5" cy="439" rx="6.9" ry="2.2"/>
<path class="l" d="M129.6 439 Q136.5 444.4 143.4 440.2" stroke-width="1.9"/>
<path class="l" d="M129.6 443 Q136.5 448.4 143.4 444.2" stroke-width="1.9"/>
<path class="l" d="M129.6 447 Q136.5 452.4 143.4 448.2" stroke-width="1.9"/>
<path class="l" d="M129.6 451 Q136.5 456.4 143.4 452.2" stroke-width="1.9"/>
<path class="l" d="M129.6 455 Q136.5 460.4 143.4 456.2" stroke-width="1.9"/>
<path class="l" d="M129.6 459 Q136.5 464.4 143.4 460.2" stroke-width="1.9"/>
<path class="l" d="M129.6 463 Q136.5 468.4 143.4 464.2" stroke-width="1.9"/>
<path class="l" d="M129.6 467 Q136.5 472.4 143.4 468.2" stroke-width="1.9"/>
<path class="l" d="M129.6 471 Q136.5 476.4 143.4 472.2" stroke-width="1.9"/>
<path class="l" d="M129.6 439 V472 M143.4 439 V473"/>
<path class="l" d="M130.1 472.4 Q136.5 477.6 143.4 473"/>
<path class="w" d="M136.3 483.6 L132.8 488.5 V494 H139.8 V488.5Z"/>
<path class="w" d="M128 494.6 Q127 496.5 128 499.2 Q136.3 504 144.6 499.2 Q145.6 496.5 144.6 494.6 Q136.3 491.5 128 494.6Z"/>
<path class="l" d="M128 496.5 Q136.3 501 144.6 496.5"/>
<path class="w" d="M131.8 501.5 V505.5 Q136.3 509.5 140.8 505.5 V501.5"/>
<path class="w" d="M127.6 527.5 V534 Q136.3 541.5 145 534 V527.5"/>
<ellipse class="w" cx="136.3" cy="527.2" rx="8.7" ry="4.8"/>
<ellipse class="l" cx="136.6" cy="527.8" rx="4.2" ry="2.2"/>
<path class="l" d="M132 522.6 L134 520.8 L136.5 523.8 M133.5 526 L139.5 529.6" stroke-width="1.7"/>
<path class="l" d="M131.3 537.8 V540.2 M141.4 537.8 V540.2" stroke-width="1.7"/>
<path class="w" d="M123.8 563 V583 Q124.5 586 127 588 V603.5 Q135.6 610 145 603.5 V588 Q147 586 147.5 583 V563Z"/>
<ellipse class="w" cx="135.6" cy="563" rx="11.8" ry="4.6"/>
<ellipse class="l" cx="135.6" cy="563.3" rx="8.2" ry="3"/>
<ellipse class="l" cx="135.6" cy="563.8" rx="5.6" ry="1.9"/>
<path class="l" d="M123.8 572 Q135.6 579 147.5 572 M123.8 577.5 Q135.6 584.5 147.5 577.5 M124.4 584 Q135.6 590.5 147 584 M127 588.2 Q135.6 594 145 588.2"/>
<path class="l" d="M127 590.5 Q135.6 596.5 145 590.5" stroke-width="2.2"/>
<path class="l" d="M131 594 V606.5 M140.5 594 V606.7 M136 598 Q139 601 137.5 607"/>
<path class="w" d="M133.7 616.5 V613 Q135.6 611 137.6 613 V616.5"/>
<path class="w" d="M128.4 618 Q135.8 614.5 143.6 618 V637.5 Q142.5 639 140.3 639.3 V657 L136 661.4 L131.8 657 V639.3 Q129.3 639 128.4 637.5Z"/>
<path class="l" d="M131.8 639.3 Q136 641 140.3 639.3"/>
<path class="w" d="M187.3 444 V455.8 Q200 463.5 212.9 455.8 V444"/>
<path class="l" d="M187.3 444.2 Q200 451.4 212.9 444.2 M187.3 448 Q200 455.2 212.9 448 M187.3 451.9 Q200 459.1 212.9 451.9" stroke-width="1.6"/>
<path class="w" d="M186.9 430 L192 424 L208.7 423.3 L213.7 430 L213.7 438.7 L207.3 443.4 L194 443.4 L186.9 438.7Z"/>
<path class="l" d="M186.9 430 L194 435.3 L207.3 435.3 L213.7 430 M194 435.3 V443.4 M207.3 435.3 V443.4"/>
<ellipse class="l" cx="200.4" cy="428.7" rx="7.8" ry="3.6"/>
<path class="w" d="M195.6 476 V469.5 Q200.4 465 205.2 469.5 V476"/>
<path class="l" d="M195.6 470.5 Q200.4 473.6 205.2 470.5 M195.6 473 Q200.4 476.2 205.2 473" stroke-width="1.6"/>
<path class="w" d="M190.8 478.5 Q200 472.5 209.1 478.5 V523.2 H190.8Z"/>
<path class="l" d="M190.8 479.5 Q200 485.5 209.1 479.5"/>
<path class="l" d="M192 484 H202.5 V501 H205.5 V483.5 M192 484 V498 M195.3 486.5 L192.8 492.5 L195.3 496.8 L197.6 492.5Z"/>
<path class="w" d="M188.4 524 Q187.6 529 188.4 533.8 Q199.5 539.5 210.5 533.8 Q211.3 529 210.5 524 Q199.5 529.8 188.4 524Z"/>
<path class="l" d="M190.8 523.2 Q199.5 527 209.1 523.2"/>
<path class="w" d="M190 535 V547.6 Q199.5 553 209.2 547.6 V535"/>
<path class="w" d="M191.6 549 V558.6 Q199.8 563.5 208.4 558.6 V549"/>
<path class="l" d="M191.6 553.3 Q199.8 558 208.4 553.3"/>
<path class="w" d="M190 559.8 Q199.5 565 208.9 559.8 V568.6 L204.4 576.6 H194 L190 568.6Z"/>
<path class="l" d="M190 562 Q199.5 567.2 208.9 562" stroke-width="1.8"/>
<path class="l" d="M196.6 566 V573.5 H203 M196.6 573.5 L194 576.6"/>
<path class="w" d="M195.7 577 V589.4 L198.8 593.4 L202 589.4 V577Z"/>
<ellipse class="w" cx="199.1" cy="604.4" rx="8.8" ry="4.8"/>
<ellipse cx="199.1" cy="604" rx="4.4" ry="1.9" fill="none" stroke="#000" stroke-width="2.2"/>
<path class="l" d="M194.8 604 Q199.1 607 203.4 604" stroke-width="2"/>
<path class="l" d="M190.3 605.5 Q199.1 613 207.9 605.5"/>
<path class="w" d="M287.3 456.7 L293.3 459.6 L308.7 475.6 L312 478.7 L313.3 484.7 L321.3 530 Q321 536.5 315.5 536.8 Q311 536 310 532.7 L299.3 488.7 L294.7 482 L293.3 470 L288.7 467.3Z"/>
<path class="l" d="M293.3 459.6 L294.3 468.5 L295.3 476.7 L297.5 481"/>
<path class="l" d="M288.7 467.3 L291 464 L293.8 465"/>
<ellipse class="w" cx="306" cy="483.3" rx="6" ry="6.7"/>
<ellipse class="l" cx="306.5" cy="483.6" rx="3.5" ry="4.1"/>
<ellipse class="w" cx="316.7" cy="532" rx="4.5" ry="4.7"/>
<ellipse class="l" cx="317" cy="532.2" rx="2" ry="2.2"/>
<path class="l" d="M311 529 Q309.5 533 312.5 536" stroke-width="2.2"/>
<path class="w" d="M332 521 V503.5 Q333 497 339 496.6 Q346 496.6 349.5 502 Q353 507 353 513 V520.4 L343.5 525 L342 527.6 L333 530.2 L330.2 523.2Z"/>
<path class="l" d="M335.8 520 V505 Q336.5 500.5 341 500.3 Q346.5 500.8 349 506.5 Q350.3 510 350.2 521"/>
<ellipse class="l" cx="342.6" cy="507.6" rx="2.6" ry="3.6"/>
<path class="l" d="M342 511 L344.5 515 V523.5 M347 512 V522.5"/>
<path class="l" d="M330.2 523.2 L338.5 520.4 L341 519.6 L342 527.6 M338.5 520.4 L339.5 525.5 M333 518.5 L336.5 517.5 L338.5 520.4"/>
<g transform="translate(379.5 495) rotate(150.5)">
<path class="w" d="M3.5 -3.4 H17 Q19.4 0 17 3.4 H3.5Z"/>
<path class="l" d="M5.5 -3.4 Q7.5 0 5.5 3.4"/>
<path class="l" d="M8.4 -3.4 Q10.4 0 8.4 3.4"/>
<path class="l" d="M11.2 -3.4 Q13.2 0 11.2 3.4"/>
<path class="l" d="M14.1 -3.4 Q16.1 0 14.1 3.4"/>
<path class="w" d="M3.5 -5.1 L2 -6.6 L-3.5 -6.6 L-6.1 -3.3 L-6.1 3.3 L-3.5 6.6 L2 6.6 L3.5 5.1Z"/>
<path class="l" d="M-3.5 -6.6 L-1.7 -3 L-1.7 3 L-3.5 6.6 M-1.7 -3 L3.5 -2.8 M-1.7 3 L3.5 2.8"/>
<path class="l" d="M-6.1 -3.3 L-1.7 -3 M-6.1 3.3 L-1.7 3"/>
</g>
<g fill="none" stroke="#9a9a9a" stroke-width="1" stroke-dasharray="1.6 1.2">
<ellipse cx="403.2" cy="443.4" rx="4.6" ry="4" transform="rotate(35 403.2 443.4)"/>
<path d="M406.5 441 L411.5 442 L420 450.5 Q421.5 454.5 418 456 L409.5 451.5 L406.2 446.8 M411.5 442 L409.5 451.5 M414.5 445 L412.5 453.2 M417.5 448 L415.5 455"/>
</g>
<path class="w" d="M415.8 478.3 Q416 472 422 471 Q428.5 470.5 429.2 476 L429.2 485 L424.2 503.3 L422.5 508.8 L425.8 510 L430.8 528.3 L420 536.8 L413.3 531.7 L411.7 516.7 L413.3 511.7 L418.3 488.3Z"/>
<path class="l" d="M411.7 516.7 L425.8 510 M413 513 L424 507.5 M413.3 531.7 L414.5 519 M420 536.8 L418.5 530"/>
<ellipse class="k" cx="422.6" cy="478.6" rx="1.3" ry="1.5"/>
<path class="l" d="M419.5 519.5 Q421.5 517 423.6 518.5 L425.2 529 Q423 531.8 421 529.8Z"/>
<ellipse class="k" cx="421.8" cy="521.8" rx="1.1" ry="1.3"/>
<path class="l" d="M414 532 L416 534.5" stroke-width="2"/>
<g transform="translate(481.5 490.2) rotate(154)">
<path class="w" d="M3.8 -3.8 H18.2 Q20.6 0 18.2 3.8 H3.8Z"/>
<path class="l" d="M5.8 -3.8 Q7.8 0 5.8 3.8"/>
<path class="l" d="M8.9 -3.8 Q10.9 0 8.9 3.8"/>
<path class="l" d="M12 -3.8 Q14 0 12 3.8"/>
<path class="l" d="M15.1 -3.8 Q17.1 0 15.1 3.8"/>
<path class="w" d="M3.8 -5.5 L2.2 -7 L-3.8 -7 L-6.3 -3.5 L-6.3 3.5 L-3.8 7 L2.2 7 L3.8 5.5Z"/>
<path class="l" d="M-3.8 -7 L-1.9 -3.1 L-1.9 3.1 L-3.8 7 M-1.9 -3.1 L3.8 -2.9 M-1.9 3.1 L3.8 2.9"/>
<path class="l" d="M-6.3 -3.5 L-1.9 -3.1 M-6.3 3.5 L-1.9 3.1"/>
</g>
<ellipse class="w" cx="448" cy="514" rx="7.4" ry="9" transform="rotate(10 448 514)"/>
<path class="l" d="M442.6 517 Q441 510 445.8 507.5 Q451.5 506.5 452.4 513 Q452.6 519.5 447.8 520.6 L444.6 518.4 L442.8 520.6"/>
<path class="l" d="M441.6 509.5 Q439.5 514 441.2 519"/>
<path class="l" d="M444.6 516.2 H447.6" stroke-width="1.8"/>
<path class="w" d="M443.3 536.9 L447.5 534.8 L460.2 543.2 L457 546.8 Q449.5 547.8 446.5 545 Q443.5 542 443.3 536.9Z"/>
<path class="l" d="M443.3 536.9 L456.4 544.4 L460.2 543.2 M456.4 544.4 L457 546.8"/>
<path class="w" d="M416.3 582.6 L468.2 631.5 L471.6 635.6 L459.4 651.6 L456.8 650.6 L404.8 594.6 Q402.5 586 408 582.6 Q412.5 580.4 416.3 582.6Z"/>
<ellipse class="l" cx="410.8" cy="589" rx="5.9" ry="7.3" transform="rotate(-35 410.8 589)"/>
<ellipse class="l" cx="411.2" cy="589.2" rx="2.4" ry="2.9" transform="rotate(-35 411.2 589.2)"/>
<path class="l" d="M445.2 622.6 Q447.5 621 452 627 Q459.5 636 461.8 642.6 Q456.5 641 451.5 635 Q445.5 628 445.2 622.6Z"/>
<path class="l" d="M449.5 627 L455.5 638 M452.6 628.6 Q457.8 635 459.8 640.2"/>
<path class="l" d="M445.6 639.5 L456.6 650.4 M447.2 637.6 L458.4 649"/>
<path class="w" d="M464.5 631.5 L467 628.4 Q470 627.6 471.6 630 L472.2 633 L469.8 636"/>
<path class="l" d="M456.8 650.6 L468.2 631.5"/>
<g transform="translate(494.6 604.2) rotate(130.5)">
<path class="w" d="M3.8 -4.3 H18.8 Q21.1 0 18.8 4.3 H3.8Z"/>
<path class="l" d="M5.8 -4.3 Q7.8 0 5.8 4.3"/>
<path class="l" d="M8.3 -4.3 Q10.3 0 8.3 4.3"/>
<path class="l" d="M10.9 -4.3 Q12.9 0 10.9 4.3"/>
<path class="l" d="M13.6 -4.3 Q15.6 0 13.6 4.3"/>
<path class="l" d="M16.1 -4.3 Q18.1 0 16.1 4.3"/>
<path class="w" d="M3.8 -5.6 L2.2 -7.2 L-3.8 -7.2 L-6.3 -3.6 L-6.3 3.6 L-3.8 7.2 L2.2 7.2 L3.8 5.6Z"/>
<path class="l" d="M-3.8 -7.2 L-1.9 -3.2 L-1.9 3.2 L-3.8 7.2 M-1.9 -3.2 L3.8 -3 M-1.9 3.2 L3.8 3"/>
<path class="l" d="M-6.3 -3.6 L-1.9 -3.2 M-6.3 3.6 L-1.9 3.2"/>
</g>
<path class="w" d="M479.4 647.2 L482 644.4 L490.2 649.6 L488.4 655.8 Q484.5 657 482.6 655.4 Q479.6 652 479.4 647.2Z"/>
<path class="l" d="M479.4 647.2 L486.8 651.4 L490.2 649.6 M486.8 651.4 L488.4 655.8"/>
<path class="w" d="M559.6 444.2 L579.4 438.2 L580.8 441.4 L580.8 450.6 L572 455.6 Q564 456.2 561.5 453.8 Q559.6 451.8 559.6 444.2Z"/>
<path class="l" d="M559.8 446.4 Q565 447.6 571.9 447.4 L580.8 441.6 M571.9 447.4 V455.6"/>
<ellipse class="l" cx="575.3" cy="450.2" rx="2.3" ry="2.7"/>
<path class="w" d="M581.6 455 Q584 451.5 589.7 449.8 Q595 448.4 598.6 450.3 Q601.6 451.6 602.4 454.4 L602.4 462 L584.4 468.2 Q582 467.2 581.6 465Z"/>
<path class="l" d="M581.8 456.6 Q583.2 458.6 585.4 458.6 L602.4 454.6 M585.4 458.6 L585.2 467.8"/>
<path class="l" d="M590.8 458.4 V465 M595.2 457.4 V463.6"/>
<ellipse class="l" cx="593" cy="461" rx="1.6" ry="2"/>
<ellipse class="w" cx="609.6" cy="470.8" rx="7.4" ry="8.9" transform="rotate(14 609.6 470.8)"/>
<path class="l" d="M605.2 476 Q602.6 468.4 607.2 465.6 Q612.6 463.6 614.4 469 Q615.4 475.6 611 478.6 L609.4 473.8 Q612 471.4 610.6 469.2 Q608.6 468 607.6 470.4"/>
<path class="l" d="M602.8 467 Q601.2 471.6 603.2 476.2" stroke-width="1.9"/>
<g transform="translate(637.2 490.6) rotate(33.5)">
<path class="w" d="M-21 -3.4 H-5 V3.4 H-21 Q-23.4 0 -21 -3.4Z"/>
<path class="l" d="M-18.5 -3.4 Q-16.5 0 -18.5 3.4"/>
<path class="l" d="M-15.5 -3.4 Q-13.5 0 -15.5 3.4"/>
<path class="l" d="M-12.5 -3.4 Q-10.5 0 -12.5 3.4"/>
<path class="l" d="M-9.5 -3.4 Q-7.5 0 -9.5 3.4"/>
<path class="l" d="M-6.5 -3.4 Q-4.5 0 -6.5 3.4"/>
<path class="w" d="M-5 -5 L-1 -7.4 L-1 7.4 L-5 5Z"/>
<ellipse class="w" cx="0.6" cy="0" rx="5" ry="7.5"/>
<path class="l" d="M-0.6 -7 Q-3 0 -0.6 7 M1.4 -7.2 Q-1 0 1.4 7.2"/>
</g>
<g transform="translate(730.6 252.4)">
<path class="w" d="M-6.8 -2.5 L-3.5 -7 L3 -7.4 L6.8 -3.4 L7 3.4 L3.4 7.4 L-2.6 7.2 L-6.6 3Z"/>
<path class="l" d="M-3.5 -7 L-1.6 -2.6 L-2 3.2 L-2.6 7.2 M-6.6 -0.2 H-1.8"/>
<ellipse class="l" cx="2.6" cy="0.6" rx="3.1" ry="3.9"/>
<ellipse class="l" cx="2.8" cy="0.8" rx="1.2" ry="1.7"/>
</g>
<path class="w" d="M862 236.4 L877 232 L885.5 231 L897.4 243.6 L897.4 256 L885.6 259 L885.6 246.6 L875.6 235 L867.6 241.4Z"/>
<path class="l" d="M885.6 246.6 L897.4 243.6 M877 232 L875.6 235 M888.5 253.6 L894.5 252"/>
<path class="w" d="M832.4 300.4 L835 299.4 L843.8 298.2 L844.4 330.6 L838.2 337 L833.2 333.4Z"/>
<path class="l" d="M835 299.4 L835.6 335.2 M833.2 333.4 L835.6 331.4"/>
<ellipse class="l" cx="839.6" cy="305.4" rx="1.5" ry="1.9"/>
<path class="l" d="M838.4 314.6 Q840 312.8 841.4 314.6 V327.6 Q840 329.6 838.4 327.6Z"/>
<path class="w" d="M851 328.6 L854.6 325.4 L865 324.6 L867 326.6 L867 344.6 L856.4 349.2 L851 346.4Z"/>
<path class="l" d="M851 328.6 L856.2 330.4 L867 326.6 M856.2 330.4 L856.4 349.2"/>
<ellipse class="l" cx="853.4" cy="334.4" rx="1" ry="1.4"/>
<ellipse class="l" cx="853.4" cy="340.6" rx="1" ry="1.4"/>
<path class="w" d="M873.4 329.4 L886.4 327 L888.4 328.4 L888.4 341 L886.4 343 L887.6 361.6 L876.4 365.8 L873.4 364 L877.6 362.4 L877 345 L873.4 340.6Z"/>
<path class="l" d="M877 345 L886.4 343 M881 347.6 V361 M883.6 347 V360.4"/>
<ellipse class="l" cx="880.2" cy="334.4" rx="1.9" ry="2.4"/>
<g transform="translate(913 359.6) rotate(32.5)">
<path class="w" d="M-22.6 0 L-17.5 -3.6 H-4 V3.6 H-17.5Z"/>
<path class="l" d="M-17.5 -3.6 L-15.7 3.6"/>
<path class="l" d="M-14.8 -3.6 L-13 3.6"/>
<path class="l" d="M-12 -3.6 L-10.2 3.6"/>
<path class="l" d="M-9.2 -3.6 L-7.4 3.6"/>
<path class="l" d="M-6.4 -3.6 L-4.6 3.6"/>
<path class="w" d="M-4 -5.6 L1 -8 L1 8 L-4 5.6Z"/>
<ellipse class="w" cx="3.4" cy="0" rx="5.2" ry="8"/>
<path class="l" d="M-4 -1.8 L1 -2.6 M-4 2.2 L1 3"/>
</g>
<g transform="translate(872.6 551.6) rotate(-18)">
<path class="w" d="M-5.6 -9.2 H6.4 Q9.6 -8.6 9.8 -6 V4.4 L7.6 4.6 V8.8 H-5.6Z"/>
<ellipse class="w" cx="-5.4" cy="-0.2" rx="4.6" ry="9"/>
<ellipse class="l" cx="-5.2" cy="0" rx="2.6" ry="5.2"/>
<ellipse class="l" cx="-5" cy="0.2" rx="1.3" ry="3"/>
</g>
<g transform="translate(848.6 558.8) rotate(-8)">
<path class="w" d="M-1 -9.4 Q4.6 -9.6 5.8 -3 Q6.8 5 1.8 9 L-3.2 8.2 Q-6.6 3 -6 -3 Q-5 -8.6 -1 -9.4Z"/>
<path class="l" d="M-3.4 -6.6 Q-0.4 -8 1.6 -5.4 L-1.2 -2.8 Q-3.2 -0.6 -1.6 2.4 Q1 4 2.6 1.4 L3.2 4.6 Q0.6 7 -2.2 5 Q-4.6 0 -3.4 -6.6Z"/>
<path class="l" d="M-1.4 -0.6 H3.4" stroke-width="1.8"/>
</g>
<ellipse class="w" cx="796.4" cy="647.4" rx="8" ry="10" transform="rotate(16 796.4 647.4)"/>
<ellipse class="l" cx="797.4" cy="647.8" rx="5.3" ry="7" transform="rotate(16 797.4 647.8)"/>
<ellipse class="l" cx="798" cy="648" rx="3.4" ry="4.8" transform="rotate(16 798 648)"/>
<path class="l" d="M789 643.4 Q787.6 648.6 790.4 654.6" stroke-width="1.8"/>
<path class="w" d="M814.4 659.6 Q815.2 656.8 818 657 L821.6 659.4 L817.6 666.4 Q814 664.4 814.4 659.6Z"/>
<path class="w" d="M817.6 666.6 Q818 661.4 822 659 Q827.4 657.6 831 661.4 Q834 665.8 832.8 671 Q830.6 676.2 825 676 Q820.4 675.4 818.4 671.4Z"/>
<path class="l" d="M820.4 661.6 Q818.8 666.4 821.2 672.8 M817.8 660 L819.8 662.4"/>
<path class="l" d="M814.6 661 Q815.4 663.4 817.4 664.6" stroke-width="1.8"/>
<path class="l" d="M509.2 545.6 L522.6 562.6 M499.6 550.4 L533 597"/>
<ellipse class="w" cx="503.8" cy="545" rx="5.3" ry="6.5" transform="rotate(-20 503.8 545)"/>
<ellipse class="l" cx="504" cy="545.2" rx="2.5" ry="3.1" transform="rotate(-20 504 545.2)"/>
<ellipse class="l" cx="504.2" cy="545.4" rx="1" ry="1.3"/>
<path class="w" d="M560.8 535.6 L581 530 L591 534.6 L612.5 529 L616 550 L616.5 573 L578.5 583.5 L577.8 560 L559.6 547Z"/>
<path class="l" d="M571.6 534 L578.2 543.2 L577.8 560 M574 532 L580.6 541 M578.2 543.2 L581.5 546 L613 537.6 M559.6 541.5 L563 540.6 L563 546 M575.6 548.5 Q577 551.5 575.8 554.5"/>
<path class="w" d="M581.4 523 Q582.5 517.6 588 516.2 L602.4 511.8 L611.5 517 L611.5 529.4 L588.4 535 Q581.8 534 581.4 529.6Z"/>
<path class="l" d="M581.4 523 Q582.6 528.6 588.4 529 L611.5 523"/>
<ellipse class="l" cx="591" cy="521.6" rx="6" ry="3.3" transform="rotate(-8 591 521.6)"/>
<ellipse class="l" cx="591.4" cy="522.2" rx="3.6" ry="1.6" transform="rotate(-8 591.4 522.2)"/>
<path class="w" d="M550 551.2 L564.4 546.8 L578 566.8 L560.8 572Z"/>
<path class="w" d="M538 558 L542.8 552.4 L550 551.4 L556 553.5 L562 567 L557.4 573.4 L550 572.2 L543.5 570Z"/>
<path class="l" d="M541 558.5 L545 554.5 L550 554 L558 568 L555.4 571.6"/>
<ellipse class="l" cx="552.8" cy="567" rx="2" ry="3"/>
<path class="w" d="M522.4 564.2 L548.8 557 L550.6 570.6 L524.4 577.4 Q519.4 571 522.4 564.2Z"/>
<path class="l" d="M522.4 564.2 Q525.6 570.6 524.4 577.4"/>
<path class="l" d="M563.5 573.5 Q572 575.5 577 569.5 L578.5 563.5 M573 556.5 L578 560"/>
<path class="w" d="M589.6 562.6 L616.5 555.4 L616.8 574.4 L593.4 580.4Z"/>
<path class="l" d="M586 563.5 Q584.4 572 588 581"/>
<path class="w" d="M544.8 573.4 L548.6 571.6 L568.8 586 L615.6 574.4 L615.8 588.8 L573.6 599.8Z"/>
<path class="l" d="M568.8 586 L573.6 599.8 M556 575.4 L557.5 578.5 L566.2 576.4 L565 581 L569 583.6"/>
<ellipse class="w" cx="534.2" cy="585.2" rx="4.2" ry="9.2" transform="rotate(-32 534.2 585.2)"/>
<ellipse class="l" cx="534.6" cy="585.6" rx="2.4" ry="7.2" transform="rotate(-32 534.6 585.6)"/>
<path class="w" d="M534.6 597 H542.6 V615 L540.6 616.6 V621 H537.4 V616.6 L534.6 615Z"/>
<path class="w" d="M533.4 594.4 H544 V597.6 H533.4Z"/>
<path class="l" d="M548.4 577 V617.8 L552 637 L559.2 637.4 L577.2 640.2 L601.2 633.4 L601.2 617.8 L598.8 614.2 L572.4 622.6 L571.2 637 M565.2 605.8 L566 622"/>
<path class="w" d="M550.8 585.4 L564 593.8 L565.2 605.8 L562.8 607 L549.6 597.4Z"/>
<path class="w" d="M572.4 622.6 L598.8 614.2 L601.2 617.8 L601.2 633.4 L577.2 640.2 L571.2 637Z"/>
<path class="l" d="M576.6 625.6 L576.8 640 M572.4 622.6 L576.6 625.6 L601.2 617.8"/>
<ellipse class="w" cx="587.4" cy="630.4" rx="5.6" ry="6.2"/>
<path class="w" d="M589 626 L595.5 624.8 Q598.6 628 597 633 L590.6 635.2 Q593 630.6 589 626Z"/>
<ellipse class="w" cx="556.2" cy="629.8" rx="3.6" ry="7.2" transform="rotate(-8 556.2 629.8)"/>
<ellipse class="l" cx="556.6" cy="630" rx="1.7" ry="4.2" transform="rotate(-8 556.6 630)"/>
<path class="l" d="M562.5 644 L569.6 651.4 L568.6 655.4 L559.6 654.4Z" stroke-width="1.8"/>
<path class="l" d="M563.4 647.6 V653.6 M566 648.6 V654"/>
<path class="w" d="M604.8 592.6 L611.6 591.6 L614.2 616.4 L611 617.6 L602.6 600Z"/>
<ellipse class="l" cx="608.4" cy="597.6" rx="1.2" ry="2" transform="rotate(-10 608.4 597.6)"/>
<ellipse class="l" cx="611.2" cy="610" rx="1.2" ry="2" transform="rotate(-10 611.2 610)"/>
<path class="l" d="M602.6 600 L598.6 604 L610.5 628.5"/>
<path class="w" d="M615.6 601.5 L621 600 L623.4 609.6 L617.6 611Z"/>
<path class="l" d="M616 616 L623.6 615 L623.8 623.6 L616.4 624Z M618 617 L621.6 622.6 M621.6 617 L618 622.6" stroke-width="1.7"/>
<path class="l" d="M546 622.6 L548.8 626 L558.6 667.2 Q562 678 568.4 681 L580.2 688.6 L593.9 684.6 L593.9 681 L607.6 694.6 L615.5 694.8 L625.3 688.7 M578.2 639.9 L587 686.6 M605.7 649.5 L593.9 681 M599.8 624 L615.5 651.5 L625.3 653.4 M601.2 633.4 L606 649.5"/>
<path class="l" d="M598 688 V692.6 M602.5 690 V694.5 M610.5 690.5 V695 M620 687 V691.5" stroke-width="1.6"/>
<path class="l" d="M604.8 512.8 C606 514 610.2 517 612 520 C613.8 523 614.9 525.8 615.6 530.8 C616.3 535.8 615.9 542.6 616.2 550 C616.5 557.4 616.8 567.6 617.5 575 C618.2 582.4 619.1 587.4 620.4 594.6 C621.7 601.8 624.1 610.6 625.3 618.1 C626.4 625.6 627.1 633.2 627.3 639.7 C627.5 646.2 627.3 651.2 626.3 657.4 C625.3 663.6 623.2 671.8 621.4 677 C619.6 682.2 616.5 686.8 615.5 688.7"/>
<path class="l" d="M608.4 512.8 C609.6 514 613.8 517 615.6 520 C617.4 523 618.5 525.8 619.2 530.8 C619.9 535.8 619.4 542.6 619.8 550 C620.2 557.4 621 567.6 621.7 575 C622.5 582.4 623.3 587.6 624.4 594.6 C625.5 601.6 627.3 609.3 628.2 616.8 C629.2 624.3 630.1 632.8 630.2 639.7 C630.4 646.6 630.2 651.6 629.2 658 C628.2 664.5 626.1 673.1 624.3 678.3 C622.6 683.5 619.7 687.5 618.8 689.4"/>
<path class="l" d="M612 512.8 C613.2 514 617.4 517 619.2 520 C621 523 622.1 525.8 622.8 530.8 C623.5 535.8 622.9 542.6 623.4 550 C623.9 557.4 625.1 567.6 626 575 C626.8 582.4 627.5 587.9 628.4 594.6 C629.3 601.4 630.4 608 631.2 615.5 C632 623 633 632.5 633.2 639.7 C633.3 646.9 633.1 652 632.2 658.7 C631.2 665.3 629 674.4 627.3 679.6 C625.6 684.8 622.9 688.3 622 690"/>
<path class="l" d="M615.6 512.8 C616.8 514 621 517 622.8 520 C624.6 523 625.7 525.8 626.4 530.8 C627.1 535.8 626.4 542.6 627 550 C627.6 557.4 629.3 567.6 630.2 575 C631.1 582.4 631.8 588.1 632.4 594.6 C633 601.1 633.5 606.7 634.1 614.2 C634.7 621.7 635.9 632.2 636.1 639.7 C636.3 647.2 636.1 652.4 635.1 659.3 C634.1 666.2 631.8 675.7 630.2 680.9 C628.6 686.1 626.1 689.1 625.3 690.7"/>
<path class="w" d="M608.5 514.5 Q609.5 509.6 617.5 508.6 Q625.6 508.8 626.4 513.6 L626.4 519.6 Q622 524.6 614.5 523Z"/>
<ellipse class="w" cx="617.4" cy="513.8" rx="8.8" ry="5.2"/>
<ellipse class="l" cx="617.6" cy="514" rx="5" ry="2.5"/>
<path class="w" d="M609.4 553 L613 550.4 L616.4 551 L616.8 562.4 L613.4 563.6 L609.6 561.4Z"/>
<path class="w" d="M616.4 551.4 L628 549.2 Q630.4 555 628.4 560.6 L616.8 562.4"/>
<path class="l" d="M612 553.4 V560.8 M621 550.6 V561.6 M624.6 549.8 V561"/>
<path class="w" d="M625.8 511.6 L646.8 505 L649.2 499.6 L652 498.6 L665.8 508.5 L667.4 536.4 L668.2 582 L632 592 L627.4 569 L626.4 533.2 Z"/>
<path class="l" d="M646.8 505 Q660 510 664.8 521 M626.4 533.2 L664.8 523.6 M630 553.6 L666 544 M627.6 569.2 L666 560.2 M628 572.6 L666 563.4"/>
<path class="l" d="M628 571 L666 561.8" stroke-dasharray="1.5 1.2" stroke-width="2.2"/>
<ellipse class="w" cx="643.9" cy="592.8" rx="13.6" ry="15" transform="rotate(12 643.9 592.8)"/>
<ellipse class="l" cx="644.3" cy="593" rx="11.4" ry="12.8" transform="rotate(12 644.3 593)"/>
<ellipse class="l" cx="644.6" cy="593.2" rx="9.8" ry="11" transform="rotate(12 644.6 593.2)"/>
<path class="l" d="M652.9 595 L647.6 602 L639.5 600.4 L636.7 591.8 L642 584.8 L650.1 586.4Z"/>
<path class="l" d="M658.6 586.8 Q667 588 670.4 594.6 Q676 610 676.6 634 Q676.4 652 670 662 Q664 670 652 674 L631.2 680.9"/>
<path class="l" d="M668.2 582 L672.2 592.8 L677.6 614.4 L679.4 636"/>
<path class="w" d="M652 498.6 L789.8 456.2 L804.8 467 L665.8 508.5Z"/>
<path class="w" d="M665.8 508.5 L806 467.4 L809.6 494.6 L667.6 536.4Z"/>
<path class="l" d="M668.4 540 L808 499.2"/>
<path class="w" d="M691.6 501 L718 492.8 L722.8 505.8 L693.4 514.4Z"/>
<path class="l" d="M693.6 503 L716.8 495.8 L719.4 503 L695.4 510.2Z"/>
<path class="l" d="M720.4 492 L748.4 483.8 L751.4 498 L722.8 505.8"/>
<path class="w" d="M670.6 510.6 L674.6 506 L681 504.6 L686.6 507.2 L688 516.6 L684.6 521 L676 522.6 L671.4 519.6Z"/>
<ellipse class="w" cx="683" cy="513" rx="4.6" ry="7.4" transform="rotate(-10 683 513)"/>
<path class="l" d="M674.6 506 L676.6 513.6 L676 522.6 M678.4 505.2 L680 521.6"/>
<path class="l" d="M667 520.8 L672.4 523.8 Q678 524.6 681 521.6 L687 519.2 Q690 518.6 691.6 521 Q695 524.4 698.6 521.6 Q701.6 518.4 702.4 515.4 L693.4 514.4"/>
<ellipse class="w" cx="686.2" cy="525" rx="2.8" ry="3.6" transform="rotate(20 686.2 525)"/>
<path class="l" d="M684.9 527.6 L687.5 522.4"/>
<ellipse class="w" cx="706.6" cy="518.4" rx="2.8" ry="3.6" transform="rotate(20 706.6 518.4)"/>
<path class="l" d="M705.3 521 L707.9 515.8"/>
<ellipse class="w" cx="728.2" cy="512.4" rx="2.8" ry="3.6" transform="rotate(20 728.2 512.4)"/>
<path class="l" d="M726.9 515 L729.5 509.8"/>
<ellipse class="w" cx="749.4" cy="507" rx="2.8" ry="3.6" transform="rotate(20 749.4 507)"/>
<path class="l" d="M748.1 509.6 L750.7 504.4"/>
<ellipse class="w" cx="769.4" cy="500.6" rx="2.8" ry="3.6" transform="rotate(20 769.4 500.6)"/>
<path class="l" d="M768.1 503.2 L770.7 498"/>
<ellipse class="w" cx="790.4" cy="494" rx="2.8" ry="3.6" transform="rotate(20 790.4 494)"/>
<path class="l" d="M789.1 496.6 L791.7 491.4"/>
<ellipse class="w" cx="778.4" cy="486.8" rx="9" ry="12.6" transform="rotate(-12 778.4 486.8)"/>
<ellipse class="l" cx="779" cy="487" rx="7.2" ry="10.6" transform="rotate(-12 779 487)"/>
<path class="w" d="M810.8 475 Q817 472 819.4 478 Q820.6 485 818 490 L811 490.8Z"/>
<path class="w" d="M790.6 473 L796 468.4 L803 468 L808.6 470.6 L810.8 480 L808 486.6 L800 488.2 L793.4 485.4Z"/>
<ellipse class="w" cx="803.6" cy="477.6" rx="4.6" ry="8.2" transform="rotate(-12 803.6 477.6)"/>
<ellipse class="l" cx="804" cy="477.8" rx="2.6" ry="5.2" transform="rotate(-12 804 477.8)"/>
<path class="l" d="M796 468.4 L797.6 477 L795.6 486.6 M799.6 468 L800.6 487.6"/>
<path class="w" d="M666.8 537.4 L809.6 495.6 L808.6 539 L668 582Z"/>
<path class="l" d="M671 541.6 L805.4 501.4 L804.8 536.4 L671 577.8Z"/>
<path class="l" d="M675 544 Q680.4 546 679.8 556 Q679.6 566 675.4 572.6 M675 544 V572.6"/>
<path class="l" d="M803.4 504.6 Q798.6 510 798.8 519 Q799 527 802.8 532 M803.4 504.6 V532"/>
<ellipse class="w" cx="701.8" cy="552" rx="5.2" ry="5.7"/>
<path class="w" d="M706.4 553.4 L703 557.1 L698.4 555.7 L697.2 550.6 L700.6 546.9 L705.2 548.3Z"/>
<path class="l" d="M699.3 551 L702.8 548.5 M700.3 553.5 L704.3 550.5 M701.3 555.5 L704.8 552.8"/>
<ellipse class="w" cx="789.2" cy="525.4" rx="5.2" ry="5.7"/>
<path class="w" d="M793.8 526.8 L790.4 530.5 L785.8 529.1 L784.6 524 L788 520.3 L792.6 521.7Z"/>
<path class="l" d="M786.7 524.4 L790.2 521.9 M787.7 526.9 L791.7 523.9 M788.7 528.9 L792.2 526.2"/>
<path class="l" d="M714.4 561.6 V554 Q717 549 719.8 553 V560.2"/>
<path class="l" d="M668 587.4 L689.6 581.4 M668 582 L672.2 592.8"/>
<path class="l" d="M680 638.7 L728 624.7"/>
<ellipse class="l" cx="687.3" cy="624.7" rx="6" ry="7.3"/>
<ellipse class="w" cx="702.6" cy="616" rx="4.8" ry="10.4" transform="rotate(-6 702.6 616)"/>
<ellipse class="l" cx="703" cy="616.2" rx="2.6" ry="6.2" transform="rotate(-6 703 616.2)"/>
<ellipse class="w" cx="698" cy="582.2" rx="6.6" ry="7.2" transform="rotate(20 698 582.2)"/>
<ellipse class="l" cx="698.6" cy="582.6" rx="4.4" ry="5" transform="rotate(20 698.6 582.6)"/>
<ellipse class="l" cx="699" cy="583" rx="2" ry="2.4"/>
<path class="l" d="M717.2 568.8 L702.8 590.4 L701.6 603.6 M722 571.2 L707 588 L706.2 602.6 M712.4 568.6 L700 586"/>
<ellipse class="w" cx="725.6" cy="579" rx="5" ry="5.6" transform="rotate(20 725.6 579)"/>
<ellipse class="l" cx="726" cy="579.4" rx="2.8" ry="3.2"/>
<ellipse class="l" cx="726.2" cy="579.6" rx="1.2" ry="1.4"/>
<ellipse class="l" cx="718" cy="595" rx="9.4" ry="4.6"/>
<path class="w" d="M709.4 590.6 L713.4 587 L722.4 586.6 L726.4 589.6 L726.2 594.4 L721.6 597.6 L713 597.8 L709.4 595Z"/>
<path class="l" d="M709.4 590.6 L713.2 593 L722 592.8 L726.4 589.6 M713.2 593 V597.8 M722 592.8 V597.6"/>
<path class="l" d="M768 616.7 L760 676.7"/>
<path class="w" d="M742.7 627 V646 Q744 650 746.7 652 L746.7 660 L745.4 662 V667.4 L752 670 L756 676.6 L760 676.7 L760.4 652 Q762.4 650 762.7 646 V627Z"/>
<path class="l" d="M746.7 646.6 Q753 650.6 760 646.6 M746.7 650.6 Q753 654.6 760 650.6 M746.7 655 Q753 659 760.4 655"/>
<path class="l" d="M745.4 661 Q752 665.4 760.4 661.4 M745.4 664 Q752 668.4 760.4 664.4" stroke-width="1.9"/>
<path class="l" d="M749.5 662 V669 M753.5 663 V671 M757 662.5 V673"/>
<path class="w" d="M737 582 Q735 590 739 597 L733.5 602 L736 627 L764 628 L769.5 612 L770 596 L758.8 584Z"/>
<ellipse class="w" cx="733.4" cy="614" rx="5.4" ry="14.6" transform="rotate(10 733.4 614)"/>
<ellipse class="l" cx="735.4" cy="614" rx="4.6" ry="13.4" transform="rotate(10 735.4 614)"/>
<ellipse class="w" cx="743" cy="615.4" rx="10.6" ry="12.8" transform="rotate(8 743 615.4)"/>
<path class="l" d="M734 604 L740.5 600 L741.5 603 L735.5 607.6 M733.4 622 L737.4 627.6 M736.4 606 Q733 614 735.4 623"/>
<path class="l" d="M762 600 Q766.6 603 767 609.6 M763 611.6 L768 612.4"/>
<path class="w" d="M737.2 571.4 Q737 581 738.6 583.4 Q748 589.4 758.6 583.4 Q759.4 580 758.8 571.4Z"/>
<path class="l" d="M737.2 574.6 Q748 581 758.8 574.6 M738.6 580.6 Q748 586.6 758.6 580.6"/>
<path class="l" d="M739.4 584.4 Q748 590.4 757.8 584.4 M740 587 Q748 592.6 757.4 587" stroke-width="1.8"/>
<path class="w" d="M740.8 543 V569.6 Q749.4 575.6 758.2 569.6 V543Z"/>
<path class="l" d="M738.4 563.8 Q732.6 565 731.8 572 Q731.8 578.6 736.6 581.4 M738.4 566.6 Q734.6 568 734.4 572.6 Q734.6 577.4 737.4 579"/>
<path class="w" d="M737.8 535.6 V541.2 Q749.6 548.6 761.8 541.2 V535.6"/>
<path class="l" d="M739.4 537.9 V542.3" stroke-width="0.9"/>
<path class="l" d="M741.5 538.6 V543" stroke-width="0.9"/>
<path class="l" d="M743.6 539.2 V543.6" stroke-width="0.9"/>
<path class="l" d="M745.7 539.6 V544" stroke-width="0.9"/>
<path class="l" d="M747.8 539.9 V544.3" stroke-width="0.9"/>
<path class="l" d="M749.9 540 V544.4" stroke-width="0.9"/>
<path class="l" d="M752 539.9 V544.3" stroke-width="0.9"/>
<path class="l" d="M754.1 539.6 V544" stroke-width="0.9"/>
<path class="l" d="M756.2 539.1 V543.5" stroke-width="0.9"/>
<path class="l" d="M758.3 538.5 V542.9" stroke-width="0.9"/>
<path class="l" d="M760.4 537.9 V542.3" stroke-width="0.9"/>
<ellipse class="w" cx="749.8" cy="535.4" rx="12" ry="4.8"/>
<ellipse class="l" cx="749.4" cy="534.8" rx="3" ry="1.2"/>
<path class="l" d="M740.8 545.4 Q749.4 551 758.2 545.4"/>
<path class="w" d="M758.8 555.2 L795.4 545 L795.4 607 L769.6 612.8 L768 600 L761.8 590 L761.8 558.8Z"/>
<path class="l" d="M761.8 558.8 L794.8 552.2 M766 602 V566.6 Q766.4 561.6 771 561.4 L777 561.2 Q781.4 561.6 781.6 566 V602 M781.6 598 L794.8 594.6 M779.2 603.2 L794.6 599.4 M769.6 612.8 L769 606"/>
<path class="w" d="M819.4 560 L828.4 556.6 L829.4 560.6 L832.2 559.8 Q833.8 565 833 571.6 L820 577"/>
<path class="l" d="M829.4 560.6 L830.4 566"/>
<path class="w" d="M795.4 544.6 Q800 541.6 806 540.8 Q813 540.4 816.4 545 Q820.4 552 820 560 Q818.4 568 815.8 574.4 Q819.4 583 819.4 592.4 Q819.4 601 816.4 606.8 Q810 613 802 613.4 Q796 611.6 792.4 606.8 L795.4 601Z"/>
<path class="l" d="M797 545.6 Q803.4 547.6 806.8 552.8 Q810.4 558 809.8 563.6 Q807 569.4 805 574.4 Q808.4 582 808 590 Q806.6 597 803 601.6 Q798.6 606 794.6 606.6"/>
<ellipse class="l" cx="802" cy="560.2" rx="2.9" ry="6.4" transform="rotate(-16 802 560.2)"/>
<ellipse class="l" cx="801.6" cy="600.8" rx="3.2" ry="6.4" transform="rotate(32 801.6 600.8)"/>
<path class="l" d="M679.6 493.4 L686.6 486.6 L693 485.4 L697.4 488.4 M722.4 480.6 L728.6 474 L735.6 472.6 L740 475.6 M764.4 468 L770.4 461.6 L777 460.4 L781.4 463"/>
<ellipse class="w" cx="688" cy="489.8" rx="2.6" ry="3.4" transform="rotate(20 688 489.8)"/>
<path class="l" d="M686.8 492.2 L689.2 487.4"/>
<ellipse class="w" cx="731.2" cy="477.2" rx="2.6" ry="3.4" transform="rotate(20 731.2 477.2)"/>
<path class="l" d="M730 479.6 L732.4 474.8"/>
<ellipse class="w" cx="771.4" cy="464.4" rx="2.6" ry="3.4" transform="rotate(20 771.4 464.4)"/>
<path class="l" d="M770.2 466.8 L772.6 462"/>
<g transform="translate(672.9 465.2) scale(1)">
<path class="w" d="M-6.8 21 V31.6 Q0 35.4 6.8 31.6 V21Z"/>
<path class="l" d="M-4.3 23 V33 M-1.6 23 V34 M1.4 23 V34 M4.2 23 V33" stroke-width="1.5"/>
<path class="w" d="M-9.3 13 L-5 9.4 L5 9.4 L9.3 13 L9.3 19.6 L5 23.2 L-5 23.2 L-9.3 19.6Z"/>
<path class="l" d="M-9.3 13 L-5 16.4 L5 16.4 L9.3 13 M-5 16.4 V23.2 M5 16.4 V23.2"/>
<path class="w" d="M-4.4 12.6 V1.6 Q0 -1.4 4.4 1.6 V12.6 Q0 15 -4.4 12.6Z"/>
<path class="l" d="M-4.4 3.4 Q0 6 4.4 3.4 M-4.4 6.4 Q0 9 4.4 6.4" stroke-width="2.3"/>
<path class="l" d="M-4.4 9.4 Q0 12 4.4 9.4"/>
</g>
<g transform="translate(693.5 459.3) scale(1)">
<path class="w" d="M-6.8 21 V31.6 Q0 35.4 6.8 31.6 V21Z"/>
<path class="l" d="M-4.3 23 V33 M-1.6 23 V34 M1.4 23 V34 M4.2 23 V33" stroke-width="1.5"/>
<path class="w" d="M-9.3 13 L-5 9.4 L5 9.4 L9.3 13 L9.3 19.6 L5 23.2 L-5 23.2 L-9.3 19.6Z"/>
<path class="l" d="M-9.3 13 L-5 16.4 L5 16.4 L9.3 13 M-5 16.4 V23.2 M5 16.4 V23.2"/>
<path class="w" d="M-4.4 12.6 V1.6 Q0 -1.4 4.4 1.6 V12.6 Q0 15 -4.4 12.6Z"/>
<path class="l" d="M-4.4 3.4 Q0 6 4.4 3.4 M-4.4 6.4 Q0 9 4.4 6.4" stroke-width="2.3"/>
<path class="l" d="M-4.4 9.4 Q0 12 4.4 9.4"/>
</g>
<g transform="translate(715 452.5) scale(1)">
<path class="w" d="M-6.8 21 V31.6 Q0 35.4 6.8 31.6 V21Z"/>
<path class="l" d="M-4.3 23 V33 M-1.6 23 V34 M1.4 23 V34 M4.2 23 V33" stroke-width="1.5"/>
<path class="w" d="M-9.3 13 L-5 9.4 L5 9.4 L9.3 13 L9.3 19.6 L5 23.2 L-5 23.2 L-9.3 19.6Z"/>
<path class="l" d="M-9.3 13 L-5 16.4 L5 16.4 L9.3 13 M-5 16.4 V23.2 M5 16.4 V23.2"/>
<path class="w" d="M-4.4 12.6 V1.6 Q0 -1.4 4.4 1.6 V12.6 Q0 15 -4.4 12.6Z"/>
<path class="l" d="M-4.4 3.4 Q0 6 4.4 3.4 M-4.4 6.4 Q0 9 4.4 6.4" stroke-width="2.3"/>
<path class="l" d="M-4.4 9.4 Q0 12 4.4 9.4"/>
</g>
<g transform="translate(736.5 445.6) scale(1)">
<path class="w" d="M-6.8 21 V31.6 Q0 35.4 6.8 31.6 V21Z"/>
<path class="l" d="M-4.3 23 V33 M-1.6 23 V34 M1.4 23 V34 M4.2 23 V33" stroke-width="1.5"/>
<path class="w" d="M-9.3 13 L-5 9.4 L5 9.4 L9.3 13 L9.3 19.6 L5 23.2 L-5 23.2 L-9.3 19.6Z"/>
<path class="l" d="M-9.3 13 L-5 16.4 L5 16.4 L9.3 13 M-5 16.4 V23.2 M5 16.4 V23.2"/>
<path class="w" d="M-4.4 12.6 V1.6 Q0 -1.4 4.4 1.6 V12.6 Q0 15 -4.4 12.6Z"/>
<path class="l" d="M-4.4 3.4 Q0 6 4.4 3.4 M-4.4 6.4 Q0 9 4.4 6.4" stroke-width="2.3"/>
<path class="l" d="M-4.4 9.4 Q0 12 4.4 9.4"/>
</g>
<g transform="translate(757.5 439.7) scale(1)">
<path class="w" d="M-6.8 21 V31.6 Q0 35.4 6.8 31.6 V21Z"/>
<path class="l" d="M-4.3 23 V33 M-1.6 23 V34 M1.4 23 V34 M4.2 23 V33" stroke-width="1.5"/>
<path class="w" d="M-9.3 13 L-5 9.4 L5 9.4 L9.3 13 L9.3 19.6 L5 23.2 L-5 23.2 L-9.3 19.6Z"/>
<path class="l" d="M-9.3 13 L-5 16.4 L5 16.4 L9.3 13 M-5 16.4 V23.2 M5 16.4 V23.2"/>
<path class="w" d="M-4.4 12.6 V1.6 Q0 -1.4 4.4 1.6 V12.6 Q0 15 -4.4 12.6Z"/>
<path class="l" d="M-4.4 3.4 Q0 6 4.4 3.4 M-4.4 6.4 Q0 9 4.4 6.4" stroke-width="2.3"/>
<path class="l" d="M-4.4 9.4 Q0 12 4.4 9.4"/>
</g>
<g transform="translate(778.8 432.8) scale(1)">
<path class="w" d="M-6.8 21 V31.6 Q0 35.4 6.8 31.6 V21Z"/>
<path class="l" d="M-4.3 23 V33 M-1.6 23 V34 M1.4 23 V34 M4.2 23 V33" stroke-width="1.5"/>
<path class="w" d="M-9.3 13 L-5 9.4 L5 9.4 L9.3 13 L9.3 19.6 L5 23.2 L-5 23.2 L-9.3 19.6Z"/>
<path class="l" d="M-9.3 13 L-5 16.4 L5 16.4 L9.3 13 M-5 16.4 V23.2 M5 16.4 V23.2"/>
<path class="w" d="M-4.4 12.6 V1.6 Q0 -1.4 4.4 1.6 V12.6 Q0 15 -4.4 12.6Z"/>
<path class="l" d="M-4.4 3.4 Q0 6 4.4 3.4 M-4.4 6.4 Q0 9 4.4 6.4" stroke-width="2.3"/>
<path class="l" d="M-4.4 9.4 Q0 12 4.4 9.4"/>
</g>
<path d="M69.5 47.5H955V716.5H69.5Z" fill="none" stroke="#000" stroke-width="1.2"/>
<path d="M955 47V717" fill="none" stroke="#000" stroke-width="2"/>
<path d="M69.5 694.5H173.5Q175.5 694.5 175.5 696.5V716.5M102.5 694.5V716.5M136.5 694.5V716.5" fill="none" stroke="#000" stroke-width="1.1"/>
<g>
<text class="t" x="405.2 415.2 425.2" y="125.5">265</text>
<text class="t" x="192 202 212" y="174">270</text>
<text class="t" x="255 265 275" y="232.4">272</text>
<text class="t" x="374.9 383.8 393.1" y="226.7">212</text>
<text class="t" x="450.9 460.9 470.9" y="242.7">230</text>
<text class="t" x="394 404 414" y="259.4">235</text>
<text class="t" x="328.5 338.5 348.5" y="280.5">240</text>
<text class="t" x="511.3 521.3 531.3" y="228.3">225</text>
<text class="t" x="570.6 580.6 590.6" y="207.7">220</text>
<text class="t" x="629.6 638.5 647.8" y="191.1">215</text>
<text class="t" x="732.7 742.7 752.7" y="237.8">245</text>
<text class="t" x="865.3 875.3 885.3" y="224.7">258</text>
<text class="t" x="826.4 836.4 846.4" y="287.6">260</text>
<text class="t" x="847.8 857.8 867.8" y="313">250</text>
<text class="t" x="885.5 895.5 905.5" y="321.4">255</text>
<text class="t" x="906.7 916.7 926.7" y="342.6">262</text>
<text class="t" x="176.3 186.3 196.3" y="294.8">274</text>
<text class="t" x="204 214 224" y="310.8">276</text>
<text class="t" x="230.6 240.6 250.6" y="323.6">277</text>
<text class="t" x="242 252 262" y="339.4">278</text>
<text class="t" x="292.5 302.5 312.5" y="364.5">279</text>
<text class="t" x="89.9 99.2 109.2" y="426.6">187</text>
<text class="t" x="91.4 100.7 110.7" y="462.2">192</text>
<text class="t" x="88.5 98.5 108.5" y="500.3">200</text>
<text class="t" x="89.4 98.7 108.7" y="535.8">195</text>
<text class="t" x="84.7 94.7 104.7" y="582.3">205</text>
<text class="t" x="87.7 97.7 107.7" y="640.1">207</text>
<text class="t" x="216.1 225 233.2" y="441.8">211</text>
<text class="t" x="211.3 220.6 230.6" y="527.9">186</text>
<text class="t" x="211.4 221.4 231.4" y="610.5">209</text>
<text class="t" x="270.2 279.1" y="520.8">71</text>
<text class="t" x="336.6 346.6" y="549">72</text>
<text class="t" x="365.2 375.2" y="479.3">73</text>
<text class="t" x="373.6 382.9 392.9" y="430">126</text>
<text class="t" x="378.3 387.6 397.6" y="536">127</text>
<text class="t" x="464.8 474.1 484.1" y="477">135</text>
<text class="t" x="455.8 465.1 475.1" y="526.2">136</text>
<text class="t" x="440.8 450.1 460.1" y="567.7">130</text>
<text class="t" x="401.9 411.9" y="631.3">66</text>
<text class="t" x="490.5 500.5" y="637">67</text>
<text class="t" x="476.9 486.9" y="677.5">70</text>
<text class="t" x="535.2 545.2" y="458.3">34</text>
<text class="t" x="557.2 567.2" y="487.7">35</text>
<text class="t" x="614.1 624.1" y="455.9">40</text>
<text class="t" x="635.5 645.5" y="472">45</text>
<text class="t" x="862.8 872.8" y="530.4">62</text>
<text class="t" x="840.3 850.3" y="589.2">60</text>
<text class="t" x="819.9 829.9" y="621.6">65</text>
<text class="t" x="805.8 815.1 825.1" y="645.7">128</text>
<text class="t" x="851.8 861.8" y="653.3">64</text>
<text class="t" x="841.4 850.7 860.7" y="673.6">129</text>
<text class="t" x="702.2" y="654.7">5</text>
<text class="t" x="71 81 91" y="710.7">280</text>
<text class="t" x="105.1 115.1 125.1" y="710.7">285</text>
<text class="t" x="139.3 149.3 159.3" y="710.7">290</text>
</g>
<g id="logo">
<g transform="translate(890 680) scale(0.10742)">
<path d="M130 378 C60 385 10 410 25 440 C50 480 250 505 500 498 C650 494 800 480 860 462 C760 478 600 488 450 486 C250 484 70 465 55 430 C48 410 80 390 130 378Z M60 492 C150 530 400 540 640 512 C450 528 200 522 60 492Z" fill="#d4d4cc" opacity=".85"/>
<g fill="#da2a52" fill-opacity=".6">
<path d="M270 45 C160 60 95 120 108 200 C122 285 260 380 420 420 C520 443 640 440 720 410 C600 418 430 385 300 310 C190 245 130 150 175 100 C200 70 240 52 270 45Z"/>
<path d="M105 270 C100 330 220 410 380 448 C480 470 600 472 665 458 C540 462 400 440 290 395 C200 358 130 310 105 270Z"/>
<path fill-rule="evenodd" d="M270 160 L345 155 L360 130 L330 100 L375 85 L440 110 L455 105 L445 80 L495 80 L530 115 L580 125 L600 118 L640 140 L650 165 L700 190 L715 180 L745 205 L740 225 L790 265 L815 262 L830 290 L810 300 L840 340 L880 350 L880 372 L845 385 L840 405 L880 430 L870 448 L830 435 L770 450 L790 485 L750 500 L710 440 C730 420 770 380 745 290 C760 340 740 380 690 372 C600 390 480 350 380 300 L305 290 L350 265 L370 245 L345 200 L270 190Z M430 215 C440 170 560 170 640 230 C710 280 700 330 660 335 C600 345 430 270 430 215Z"/>
</g></g>
<path id="arcT" d="M874 726.9 A64 64 0 0 1 1000.8 732.4" fill="none"/>
<text font-family="Liberation Sans, sans-serif" font-size="18.6" textLength="181" lengthAdjust="spacing"><textPath href="#arcT" startOffset="0" textLength="181" lengthAdjust="spacing"><tspan fill="#8b8b8b">TRUCKMALL</tspan><tspan fill="#ea7d96">PARTS</tspan></textPath></text>
</g>
</svg>
</body></html>
